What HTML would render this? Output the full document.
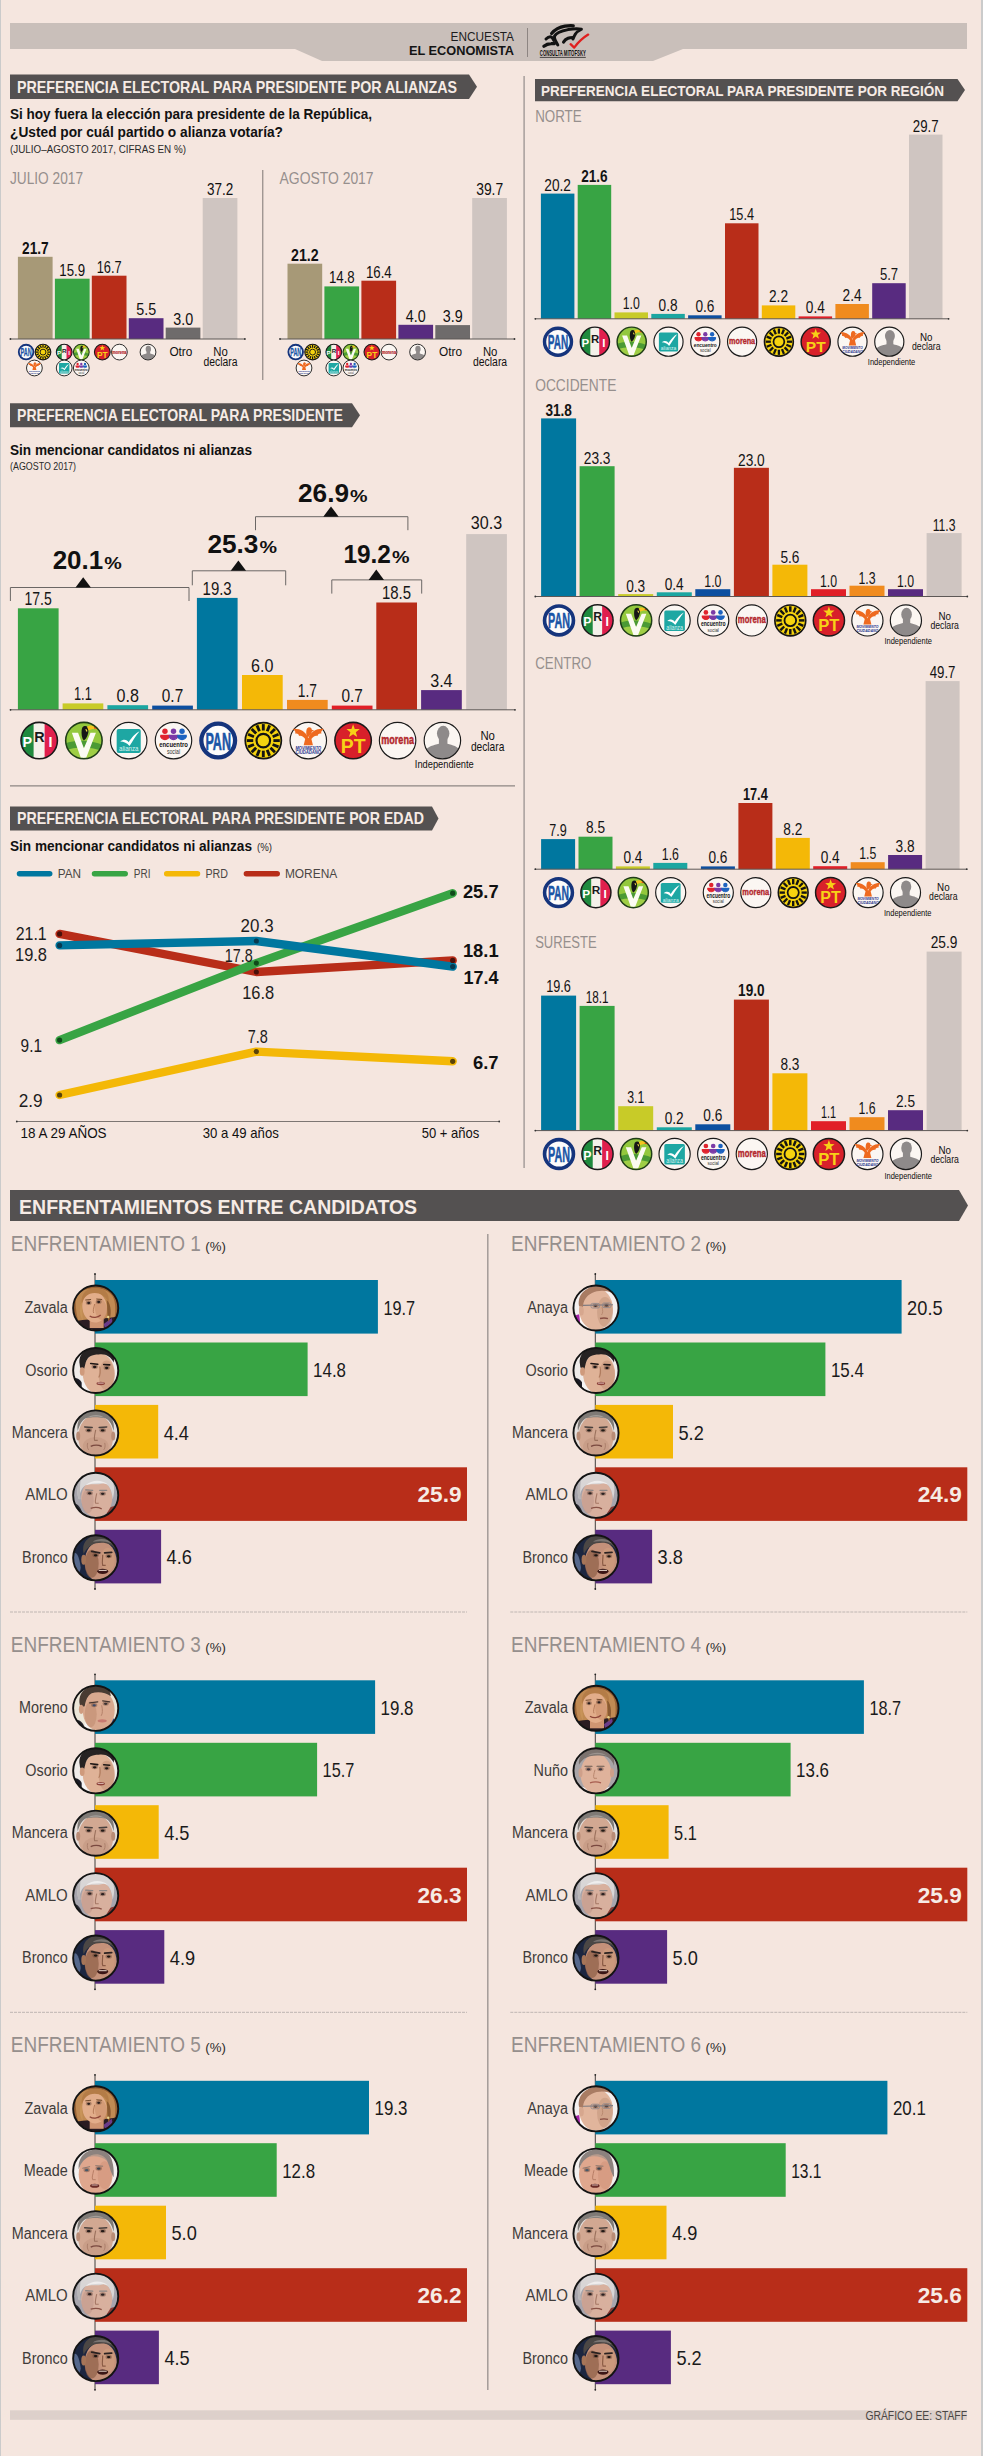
<!DOCTYPE html>
<html lang="es"><head><meta charset="utf-8"><title>Encuesta El Economista</title>
<style>
html,body{margin:0;padding:0;background:#f5e6df}
svg{display:block}
text{font-family:"Liberation Sans",Arial,sans-serif}
</style></head><body>
<svg width="983" height="2456" viewBox="0 0 983 2456">
<defs><filter id="bl" x="-10%" y="-10%" width="120%" height="120%"><feGaussianBlur stdDeviation="0.6"/></filter></defs>
<rect x="0.0" y="0.0" width="983.0" height="2456.0" fill="#f5e6df"/>
<rect x="0.0" y="0.0" width="1.0" height="2456.0" fill="#cbcbcb"/>
<rect x="981.0" y="0.0" width="2.0" height="2456.0" fill="#cbcbcb"/>
<path d="M10 23H967V49H683L653 61H322L295 49H10Z" fill="#c9bfba" stroke="none" stroke-width="1.00"/>
<text x="450.5" y="40.5" font-size="12.5" fill="#1c1c1c" textLength="63.5" lengthAdjust="spacingAndGlyphs">ENCUESTA</text>
<text x="409.0" y="54.5" font-size="12.5" font-weight="700" fill="#141414" textLength="105.0" lengthAdjust="spacingAndGlyphs">EL ECONOMISTA</text>
<line x1="527.5" y1="28.0" x2="527.5" y2="57.0" stroke="#8d8582" stroke-width="1.00"/>
<g fill="none" stroke="#121212" stroke-linecap="round" stroke-linejoin="round">
<path d="M551.6 33.6C555 29.5 560 27 565 26.2C568 25.7 571 25.5 573.3 25.8" stroke-width="3.2"/>
<path d="M557.8 45C555.5 41 553.8 38.5 554.6 36C556 33 561 31 568 29.6C573 28.8 578 28.6 581.4 29.2C578.5 30.6 576.6 32 575.4 34C574.2 36 573.6 37.5 573 39" stroke-width="3.0"/>
<path d="M563.6 42C564.5 40.4 566 39 568 38.3C569.6 37.8 571 37.6 572.6 37.5" stroke-width="3.2"/>
<path d="M543.9 46.3C546 44.6 548.5 43.7 551 43.6C552.3 43.5 553.4 43.5 554.4 43.6" stroke-width="3.3"/>
<path d="M546 39C547.6 37.4 549.2 36.7 550.5 36.8C552 37 553 38.6 553.8 40.4" stroke-width="3.0"/>
<path d="M570.6 44.2L574.2 47.6C578 42.5 583 37.8 588.2 34.6" stroke="#e0201f" stroke-width="2.3"/>
</g>
<text x="539.8" y="55.9" font-size="9.2" font-weight="700" fill="#111" textLength="46.0" lengthAdjust="spacingAndGlyphs">CONSULTA MITOFSKY</text>
<line x1="539.8" y1="57.4" x2="585.8" y2="57.4" stroke="#111" stroke-width="0.70"/>
<line x1="262.8" y1="170.0" x2="262.8" y2="380.0" stroke="#7d7673" stroke-width="1.00"/>
<line x1="524.1" y1="76.0" x2="524.1" y2="1168.0" stroke="#a09896" stroke-width="1.40"/>
<path d="M10.0 74.5H469.0L477.0 86.8L469.0 99.0H10.0Z" fill="#545151" stroke="none" stroke-width="1.00"/>
<text x="17.0" y="92.5" font-size="16.5" font-weight="700" fill="#f6ebe5" textLength="440.0" lengthAdjust="spacingAndGlyphs">PREFERENCIA ELECTORAL PARA PRESIDENTE POR ALIANZAS</text>
<text x="10.0" y="119.0" font-size="14.5" font-weight="700" fill="#111" textLength="362.0" lengthAdjust="spacingAndGlyphs">Si hoy fuera la elección para presidente de la República,</text>
<text x="10.0" y="136.5" font-size="14.5" font-weight="700" fill="#111" textLength="273.0" lengthAdjust="spacingAndGlyphs">¿Usted por cuál partido o alianza votaría?</text>
<text x="10.0" y="152.5" font-size="10.0" fill="#2a2a2a" textLength="176.0" lengthAdjust="spacingAndGlyphs">(JULIO–AGOSTO 2017, CIFRAS EN %)</text>
<text x="10.0" y="184.0" font-size="16.2" fill="#968f8d" textLength="73.0" lengthAdjust="spacingAndGlyphs">JULIO 2017</text>
<rect x="17.9" y="256.8" width="34.7" height="82.2" fill="#a79977"/>
<text x="22.0" y="253.8" font-size="16.5" font-weight="700" fill="#111" textLength="26.7" lengthAdjust="spacingAndGlyphs">21.7</text>
<rect x="54.9" y="278.7" width="34.7" height="60.3" fill="#38a444"/>
<text x="59.3" y="275.7" font-size="16.5" fill="#111" textLength="25.8" lengthAdjust="spacingAndGlyphs">15.9</text>
<rect x="91.8" y="275.7" width="34.7" height="63.3" fill="#b82d19"/>
<text x="96.7" y="272.7" font-size="16.5" fill="#111" textLength="24.9" lengthAdjust="spacingAndGlyphs">16.7</text>
<rect x="128.8" y="318.2" width="34.7" height="20.8" fill="#582b80"/>
<text x="136.2" y="315.2" font-size="16.5" fill="#111" textLength="19.9" lengthAdjust="spacingAndGlyphs">5.5</text>
<rect x="165.7" y="327.6" width="34.7" height="11.4" fill="#6e6b6b"/>
<text x="173.2" y="324.6" font-size="16.5" fill="#111" textLength="19.9" lengthAdjust="spacingAndGlyphs">3.0</text>
<rect x="202.7" y="198.0" width="34.7" height="141.0" fill="#cfc5c1"/>
<text x="206.9" y="195.0" font-size="16.5" fill="#111" textLength="26.3" lengthAdjust="spacingAndGlyphs">37.2</text>
<line x1="10.4" y1="339.0" x2="244.9" y2="339.0" stroke="#5d5856" stroke-width="1.00"/>
<circle cx="10.4" cy="339.0" r="0.9" fill="#333"/>
<circle cx="244.9" cy="339.0" r="0.9" fill="#333"/>
<g transform="translate(26.1 352.1) scale(0.168)">
<circle r="43.5" fill="#fdfcfb" stroke="#15347c" stroke-width="11"/>
<text x="-33" y="23" font-size="64" font-weight="700" fill="#1a55a6" stroke="#1a55a6" stroke-width="1.5" textLength="66" lengthAdjust="spacingAndGlyphs">PAN</text>
</g>
<g transform="translate(43.0 352.1) scale(0.168)">
<circle r="46.5" fill="#f5d30f" stroke="#141414" stroke-width="6.9"/>
<rect x="26" y="-3.7" width="16.5" height="7.4" fill="#141414" transform="rotate(0.0)"/>
<rect x="26" y="-3.7" width="16.5" height="7.4" fill="#141414" transform="rotate(22.5)"/>
<rect x="26" y="-3.7" width="16.5" height="7.4" fill="#141414" transform="rotate(45.0)"/>
<rect x="26" y="-3.7" width="16.5" height="7.4" fill="#141414" transform="rotate(67.5)"/>
<rect x="26" y="-3.7" width="16.5" height="7.4" fill="#141414" transform="rotate(90.0)"/>
<rect x="26" y="-3.7" width="16.5" height="7.4" fill="#141414" transform="rotate(112.5)"/>
<rect x="26" y="-3.7" width="16.5" height="7.4" fill="#141414" transform="rotate(135.0)"/>
<rect x="26" y="-3.7" width="16.5" height="7.4" fill="#141414" transform="rotate(157.5)"/>
<rect x="26" y="-3.7" width="16.5" height="7.4" fill="#141414" transform="rotate(180.0)"/>
<rect x="26" y="-3.7" width="16.5" height="7.4" fill="#141414" transform="rotate(202.5)"/>
<rect x="26" y="-3.7" width="16.5" height="7.4" fill="#141414" transform="rotate(225.0)"/>
<rect x="26" y="-3.7" width="16.5" height="7.4" fill="#141414" transform="rotate(247.5)"/>
<rect x="26" y="-3.7" width="16.5" height="7.4" fill="#141414" transform="rotate(270.0)"/>
<rect x="26" y="-3.7" width="16.5" height="7.4" fill="#141414" transform="rotate(292.5)"/>
<rect x="26" y="-3.7" width="16.5" height="7.4" fill="#141414" transform="rotate(315.0)"/>
<rect x="26" y="-3.7" width="16.5" height="7.4" fill="#141414" transform="rotate(337.5)"/>
<circle r="17.5" fill="#f5d30f" stroke="#141414" stroke-width="5.5"/>
</g>
<g transform="translate(34.4 368.0) scale(0.168)">
<circle r="47" fill="#fbf6f2" stroke="#1a1a1a" stroke-width="5.4"/>
<path d="M0-6C-6-24-24-32-40-30C-34-26-32-22-34-18C-28-20-24-16-24-12C-18-14-12-10-8-4L-12 12H12L8-4C12-10 18-14 24-12C24-16 28-20 34-18C32-22 34-26 40-30C24-32 6-24 0-6Z" fill="#ee6a20"/>
<path d="M-4-30C0-37 9-35 9-28L15-26L9-23C9-16 2-12-2-8C-6-14-6-24-4-30Z" fill="#ee6a20"/>
<text x="-33" y="23" font-size="12.5" font-weight="700" font-style="italic" fill="#26338c" textLength="66" lengthAdjust="spacingAndGlyphs">MOVIMIENTO</text>
<text x="-33" y="35.5" font-size="12.5" font-weight="700" font-style="italic" fill="#26338c" textLength="66" lengthAdjust="spacingAndGlyphs">CIUDADANO</text>
</g>
<g transform="translate(64.2 352.1) scale(0.168)">
<clipPath id="c1"><circle r="47"/></clipPath>
<g clip-path="url(#c1)"><rect x="-50" y="-50" width="36" height="100" fill="#1f8a3e"/><rect x="-14" y="-50" width="28" height="100" fill="#f4f1ea"/><rect x="14" y="-50" width="36" height="100" fill="#e01f4d"/></g>
<circle r="47" fill="none" stroke="#1a1a1a" stroke-width="6.4"/>
<text x="-43" y="17" font-size="37" font-weight="700" fill="#fff">P</text>
<text x="-13" y="3" font-size="37" font-weight="700" fill="#1a1a1a">R</text>
<text x="24" y="17" font-size="37" font-weight="700" fill="#fff">I</text>
</g>
<g transform="translate(81.3 352.1) scale(0.168)">
<clipPath id="c2"><circle r="47"/></clipPath>
<circle r="47" fill="#93c83d"/>
<g clip-path="url(#c2)"><path d="M-50 8C-22-4 22-2 50 12V50H-50Z" fill="#4b9a34"/><path d="M-50 26C-20 14 22 16 50 28V50H-50Z" fill="#9fce45"/></g>
<path d="M-31-20H-15L0 20L17-20H31L6 44H-8Z" fill="#fbfbf2"/>
<path d="M-4-34C2-41 12-38 12-28C12-18 8-6 0 0C-6-6-8-24-4-34Z" fill="#161616"/>
<path d="M8-36C18-42 32-38 38-28C28-32 18-30 12-26Z" fill="#f4c51f"/><path d="M26-35C32-34 36-31 38-28C33-30 29-31 26-31Z" fill="#d8381f"/>
<path d="M4-30C8-30 10-26 8-22C6-24 4-27 4-30Z" fill="#f4e04a"/>
<circle r="47" fill="none" stroke="#1f3d18" stroke-width="6.4"/>
</g>
<g transform="translate(64.2 368.0) scale(0.168)">
<circle r="47" fill="#fbf6f2" stroke="#1a1a1a" stroke-width="5.4"/>
<rect x="-31" y="-30" width="62" height="62" rx="5" fill="#1ea7a3"/>
<path d="M-22 2C-12-6-4-2 0 4C8-8 18-20 28-24C18-12 10 2 2 14C-4 6-12 2-22 2Z" fill="#fff"/>
<text x="-25" y="28" font-size="19" fill="#d9f3f1" textLength="50" lengthAdjust="spacingAndGlyphs">alianza</text>
</g>
<g transform="translate(81.3 368.0) scale(0.168)">
<circle r="47" fill="#fbf6f2" stroke="#1a1a1a" stroke-width="5.4"/>
<circle cx="-22" cy="-24" r="7" fill="#e0242e"/>
<path d="M-35 -14A13 13 0 0 0 -9 -14L-14 -12A8 8 0 0 1 -30 -12Z" fill="#e0242e"/>
<path d="M-34 -15A12 12 0 0 0 -10 -15Z" fill="#e0242e"/>
<circle cx="0" cy="-24" r="7" fill="#7b3aa6"/>
<path d="M-13 -14A13 13 0 0 0 13 -14L8 -12A8 8 0 0 1 -8 -12Z" fill="#7b3aa6"/>
<path d="M-12 -15A12 12 0 0 0 12 -15Z" fill="#7b3aa6"/>
<circle cx="22" cy="-24" r="7" fill="#1d63c0"/>
<path d="M9 -14A13 13 0 0 0 35 -14L30 -12A8 8 0 0 1 14 -12Z" fill="#1d63c0"/>
<path d="M10 -15A12 12 0 0 0 34 -15Z" fill="#1d63c0"/>
<text x="-37" y="17" font-size="20" font-weight="700" fill="#141414" textLength="74" lengthAdjust="spacingAndGlyphs">encuentro</text>
<text x="-17" y="34" font-size="17" fill="#333" textLength="34" lengthAdjust="spacingAndGlyphs">social</text>
</g>
<g transform="translate(102.3 352.1) scale(0.168)">
<circle r="47" fill="#d8202a" stroke="#1a1a1a" stroke-width="6.4"/>
<polygon points="0.0,-42.0 4.3,-30.0 17.1,-29.6 7.0,-21.7 10.6,-9.4 0.0,-16.6 -10.6,-9.4 -7.0,-21.7 -17.1,-29.6 -4.3,-30.0" fill="#f7d117"/>
<text x="-32" y="33" font-size="50" font-weight="700" fill="#f7d117" textLength="64" lengthAdjust="spacingAndGlyphs">PT</text>
</g>
<g transform="translate(119.4 352.1) scale(0.168)">
<circle r="47" fill="#fbf6f2" stroke="#1a1a1a" stroke-width="5.4"/>
<text x="-42" y="9" font-size="31" font-weight="700" fill="#b3282d" stroke="#b3282d" stroke-width="1.2" textLength="84" lengthAdjust="spacingAndGlyphs">morena</text>
</g>
<g transform="translate(148.0 352.1) scale(0.168)">
<clipPath id="c3"><circle r="46"/></clipPath>
<circle r="47" fill="#fbf6f2"/>
<g clip-path="url(#c3)" fill="#8e8a8a"><ellipse cx="2" cy="-18" rx="16" ry="20"/><path d="M-9-4H13V8C26 12 40 14 46 26V50H-44V26C-38 14-22 12-9 8Z"/></g>
<circle r="47" fill="none" stroke="#1a1a1a" stroke-width="5.4"/>
</g>
<text x="169.4" y="355.5" font-size="12.0" fill="#111" textLength="23.0" lengthAdjust="spacingAndGlyphs">Otro</text>
<text x="213.2" y="355.5" font-size="12.0" fill="#111" textLength="14.5" lengthAdjust="spacingAndGlyphs">No</text>
<text x="203.5" y="366.0" font-size="12.0" fill="#111" textLength="34.0" lengthAdjust="spacingAndGlyphs">declara</text>
<text x="279.6" y="184.0" font-size="16.2" fill="#968f8d" textLength="94.0" lengthAdjust="spacingAndGlyphs">AGOSTO 2017</text>
<rect x="287.5" y="263.7" width="34.7" height="75.3" fill="#a79977"/>
<text x="291.1" y="260.7" font-size="16.5" font-weight="700" fill="#111" textLength="27.6" lengthAdjust="spacingAndGlyphs">21.2</text>
<rect x="324.4" y="286.4" width="34.7" height="52.6" fill="#38a444"/>
<text x="328.9" y="283.4" font-size="16.5" fill="#111" textLength="25.8" lengthAdjust="spacingAndGlyphs">14.8</text>
<rect x="361.4" y="280.7" width="34.7" height="58.3" fill="#b82d19"/>
<text x="365.9" y="277.7" font-size="16.5" fill="#111" textLength="25.8" lengthAdjust="spacingAndGlyphs">16.4</text>
<rect x="398.4" y="324.8" width="34.7" height="14.2" fill="#582b80"/>
<text x="405.8" y="321.8" font-size="16.5" fill="#111" textLength="19.9" lengthAdjust="spacingAndGlyphs">4.0</text>
<rect x="435.3" y="325.1" width="34.7" height="13.9" fill="#6e6b6b"/>
<text x="442.8" y="322.1" font-size="16.5" fill="#111" textLength="19.9" lengthAdjust="spacingAndGlyphs">3.9</text>
<rect x="472.2" y="198.0" width="34.7" height="141.0" fill="#cfc5c1"/>
<text x="476.2" y="195.0" font-size="16.5" fill="#111" textLength="27.0" lengthAdjust="spacingAndGlyphs">39.7</text>
<line x1="280.0" y1="339.0" x2="514.5" y2="339.0" stroke="#5d5856" stroke-width="1.00"/>
<circle cx="280.0" cy="339.0" r="0.9" fill="#333"/>
<circle cx="514.5" cy="339.0" r="0.9" fill="#333"/>
<g transform="translate(295.7 352.1) scale(0.168)">
<circle r="43.5" fill="#fdfcfb" stroke="#15347c" stroke-width="11"/>
<text x="-33" y="23" font-size="64" font-weight="700" fill="#1a55a6" stroke="#1a55a6" stroke-width="1.5" textLength="66" lengthAdjust="spacingAndGlyphs">PAN</text>
</g>
<g transform="translate(312.6 352.1) scale(0.168)">
<circle r="46.5" fill="#f5d30f" stroke="#141414" stroke-width="6.9"/>
<rect x="26" y="-3.7" width="16.5" height="7.4" fill="#141414" transform="rotate(0.0)"/>
<rect x="26" y="-3.7" width="16.5" height="7.4" fill="#141414" transform="rotate(22.5)"/>
<rect x="26" y="-3.7" width="16.5" height="7.4" fill="#141414" transform="rotate(45.0)"/>
<rect x="26" y="-3.7" width="16.5" height="7.4" fill="#141414" transform="rotate(67.5)"/>
<rect x="26" y="-3.7" width="16.5" height="7.4" fill="#141414" transform="rotate(90.0)"/>
<rect x="26" y="-3.7" width="16.5" height="7.4" fill="#141414" transform="rotate(112.5)"/>
<rect x="26" y="-3.7" width="16.5" height="7.4" fill="#141414" transform="rotate(135.0)"/>
<rect x="26" y="-3.7" width="16.5" height="7.4" fill="#141414" transform="rotate(157.5)"/>
<rect x="26" y="-3.7" width="16.5" height="7.4" fill="#141414" transform="rotate(180.0)"/>
<rect x="26" y="-3.7" width="16.5" height="7.4" fill="#141414" transform="rotate(202.5)"/>
<rect x="26" y="-3.7" width="16.5" height="7.4" fill="#141414" transform="rotate(225.0)"/>
<rect x="26" y="-3.7" width="16.5" height="7.4" fill="#141414" transform="rotate(247.5)"/>
<rect x="26" y="-3.7" width="16.5" height="7.4" fill="#141414" transform="rotate(270.0)"/>
<rect x="26" y="-3.7" width="16.5" height="7.4" fill="#141414" transform="rotate(292.5)"/>
<rect x="26" y="-3.7" width="16.5" height="7.4" fill="#141414" transform="rotate(315.0)"/>
<rect x="26" y="-3.7" width="16.5" height="7.4" fill="#141414" transform="rotate(337.5)"/>
<circle r="17.5" fill="#f5d30f" stroke="#141414" stroke-width="5.5"/>
</g>
<g transform="translate(304.0 368.0) scale(0.168)">
<circle r="47" fill="#fbf6f2" stroke="#1a1a1a" stroke-width="5.4"/>
<path d="M0-6C-6-24-24-32-40-30C-34-26-32-22-34-18C-28-20-24-16-24-12C-18-14-12-10-8-4L-12 12H12L8-4C12-10 18-14 24-12C24-16 28-20 34-18C32-22 34-26 40-30C24-32 6-24 0-6Z" fill="#ee6a20"/>
<path d="M-4-30C0-37 9-35 9-28L15-26L9-23C9-16 2-12-2-8C-6-14-6-24-4-30Z" fill="#ee6a20"/>
<text x="-33" y="23" font-size="12.5" font-weight="700" font-style="italic" fill="#26338c" textLength="66" lengthAdjust="spacingAndGlyphs">MOVIMIENTO</text>
<text x="-33" y="35.5" font-size="12.5" font-weight="700" font-style="italic" fill="#26338c" textLength="66" lengthAdjust="spacingAndGlyphs">CIUDADANO</text>
</g>
<g transform="translate(333.8 352.1) scale(0.168)">
<clipPath id="c4"><circle r="47"/></clipPath>
<g clip-path="url(#c4)"><rect x="-50" y="-50" width="36" height="100" fill="#1f8a3e"/><rect x="-14" y="-50" width="28" height="100" fill="#f4f1ea"/><rect x="14" y="-50" width="36" height="100" fill="#e01f4d"/></g>
<circle r="47" fill="none" stroke="#1a1a1a" stroke-width="6.4"/>
<text x="-43" y="17" font-size="37" font-weight="700" fill="#fff">P</text>
<text x="-13" y="3" font-size="37" font-weight="700" fill="#1a1a1a">R</text>
<text x="24" y="17" font-size="37" font-weight="700" fill="#fff">I</text>
</g>
<g transform="translate(350.9 352.1) scale(0.168)">
<clipPath id="c5"><circle r="47"/></clipPath>
<circle r="47" fill="#93c83d"/>
<g clip-path="url(#c5)"><path d="M-50 8C-22-4 22-2 50 12V50H-50Z" fill="#4b9a34"/><path d="M-50 26C-20 14 22 16 50 28V50H-50Z" fill="#9fce45"/></g>
<path d="M-31-20H-15L0 20L17-20H31L6 44H-8Z" fill="#fbfbf2"/>
<path d="M-4-34C2-41 12-38 12-28C12-18 8-6 0 0C-6-6-8-24-4-34Z" fill="#161616"/>
<path d="M8-36C18-42 32-38 38-28C28-32 18-30 12-26Z" fill="#f4c51f"/><path d="M26-35C32-34 36-31 38-28C33-30 29-31 26-31Z" fill="#d8381f"/>
<path d="M4-30C8-30 10-26 8-22C6-24 4-27 4-30Z" fill="#f4e04a"/>
<circle r="47" fill="none" stroke="#1f3d18" stroke-width="6.4"/>
</g>
<g transform="translate(333.8 368.0) scale(0.168)">
<circle r="47" fill="#fbf6f2" stroke="#1a1a1a" stroke-width="5.4"/>
<rect x="-31" y="-30" width="62" height="62" rx="5" fill="#1ea7a3"/>
<path d="M-22 2C-12-6-4-2 0 4C8-8 18-20 28-24C18-12 10 2 2 14C-4 6-12 2-22 2Z" fill="#fff"/>
<text x="-25" y="28" font-size="19" fill="#d9f3f1" textLength="50" lengthAdjust="spacingAndGlyphs">alianza</text>
</g>
<g transform="translate(350.9 368.0) scale(0.168)">
<circle r="47" fill="#fbf6f2" stroke="#1a1a1a" stroke-width="5.4"/>
<circle cx="-22" cy="-24" r="7" fill="#e0242e"/>
<path d="M-35 -14A13 13 0 0 0 -9 -14L-14 -12A8 8 0 0 1 -30 -12Z" fill="#e0242e"/>
<path d="M-34 -15A12 12 0 0 0 -10 -15Z" fill="#e0242e"/>
<circle cx="0" cy="-24" r="7" fill="#7b3aa6"/>
<path d="M-13 -14A13 13 0 0 0 13 -14L8 -12A8 8 0 0 1 -8 -12Z" fill="#7b3aa6"/>
<path d="M-12 -15A12 12 0 0 0 12 -15Z" fill="#7b3aa6"/>
<circle cx="22" cy="-24" r="7" fill="#1d63c0"/>
<path d="M9 -14A13 13 0 0 0 35 -14L30 -12A8 8 0 0 1 14 -12Z" fill="#1d63c0"/>
<path d="M10 -15A12 12 0 0 0 34 -15Z" fill="#1d63c0"/>
<text x="-37" y="17" font-size="20" font-weight="700" fill="#141414" textLength="74" lengthAdjust="spacingAndGlyphs">encuentro</text>
<text x="-17" y="34" font-size="17" fill="#333" textLength="34" lengthAdjust="spacingAndGlyphs">social</text>
</g>
<g transform="translate(371.9 352.1) scale(0.168)">
<circle r="47" fill="#d8202a" stroke="#1a1a1a" stroke-width="6.4"/>
<polygon points="0.0,-42.0 4.3,-30.0 17.1,-29.6 7.0,-21.7 10.6,-9.4 0.0,-16.6 -10.6,-9.4 -7.0,-21.7 -17.1,-29.6 -4.3,-30.0" fill="#f7d117"/>
<text x="-32" y="33" font-size="50" font-weight="700" fill="#f7d117" textLength="64" lengthAdjust="spacingAndGlyphs">PT</text>
</g>
<g transform="translate(389.0 352.1) scale(0.168)">
<circle r="47" fill="#fbf6f2" stroke="#1a1a1a" stroke-width="5.4"/>
<text x="-42" y="9" font-size="31" font-weight="700" fill="#b3282d" stroke="#b3282d" stroke-width="1.2" textLength="84" lengthAdjust="spacingAndGlyphs">morena</text>
</g>
<g transform="translate(417.6 352.1) scale(0.168)">
<clipPath id="c6"><circle r="46"/></clipPath>
<circle r="47" fill="#fbf6f2"/>
<g clip-path="url(#c6)" fill="#8e8a8a"><ellipse cx="2" cy="-18" rx="16" ry="20"/><path d="M-9-4H13V8C26 12 40 14 46 26V50H-44V26C-38 14-22 12-9 8Z"/></g>
<circle r="47" fill="none" stroke="#1a1a1a" stroke-width="5.4"/>
</g>
<text x="439.0" y="355.5" font-size="12.0" fill="#111" textLength="23.0" lengthAdjust="spacingAndGlyphs">Otro</text>
<text x="482.9" y="355.5" font-size="12.0" fill="#111" textLength="14.5" lengthAdjust="spacingAndGlyphs">No</text>
<text x="473.1" y="366.0" font-size="12.0" fill="#111" textLength="34.0" lengthAdjust="spacingAndGlyphs">declara</text>
<path d="M10.0 403.2H352.0L360.0 415.2L352.0 427.2H10.0Z" fill="#545151" stroke="none" stroke-width="1.00"/>
<text x="17.0" y="421.0" font-size="16.5" font-weight="700" fill="#f6ebe5" textLength="326.0" lengthAdjust="spacingAndGlyphs">PREFERENCIA ELECTORAL PARA PRESIDENTE</text>
<text x="10.0" y="455.4" font-size="14.5" font-weight="700" fill="#111" textLength="242.0" lengthAdjust="spacingAndGlyphs">Sin mencionar candidatos ni alianzas</text>
<text x="10.0" y="470.0" font-size="10.5" fill="#2a2a2a" textLength="66.0" lengthAdjust="spacingAndGlyphs">(AGOSTO 2017)</text>
<rect x="17.9" y="608.3" width="40.7" height="101.5" fill="#38a444"/>
<text x="24.5" y="605.1" font-size="18.6" fill="#161616" textLength="27.3" lengthAdjust="spacingAndGlyphs">17.5</text>
<rect x="62.6" y="703.4" width="40.7" height="6.4" fill="#c8cb28"/>
<text x="74.0" y="700.2" font-size="18.6" fill="#161616" textLength="17.8" lengthAdjust="spacingAndGlyphs">1.1</text>
<rect x="107.4" y="705.2" width="40.7" height="4.6" fill="#1ba6a1"/>
<text x="116.5" y="702.0" font-size="18.6" fill="#161616" textLength="22.4" lengthAdjust="spacingAndGlyphs">0.8</text>
<rect x="152.2" y="705.6" width="40.7" height="4.2" fill="#0c4fa0"/>
<text x="161.8" y="702.4" font-size="18.6" fill="#161616" textLength="21.4" lengthAdjust="spacingAndGlyphs">0.7</text>
<rect x="196.9" y="597.9" width="40.7" height="111.9" fill="#00779f"/>
<text x="202.6" y="594.7" font-size="18.6" fill="#161616" textLength="29.1" lengthAdjust="spacingAndGlyphs">19.3</text>
<rect x="242.0" y="675.0" width="40.7" height="34.8" fill="#f4b807"/>
<text x="251.1" y="671.8" font-size="18.6" fill="#161616" textLength="22.4" lengthAdjust="spacingAndGlyphs">6.0</text>
<rect x="287.0" y="699.9" width="40.7" height="9.9" fill="#f08b1e"/>
<text x="297.8" y="696.7" font-size="18.6" fill="#161616" textLength="19.1" lengthAdjust="spacingAndGlyphs">1.7</text>
<rect x="331.8" y="705.6" width="40.7" height="4.2" fill="#e11f27"/>
<text x="341.4" y="702.4" font-size="18.6" fill="#161616" textLength="21.4" lengthAdjust="spacingAndGlyphs">0.7</text>
<rect x="376.3" y="602.5" width="40.7" height="107.3" fill="#b82d19"/>
<text x="382.0" y="599.3" font-size="18.6" fill="#161616" textLength="29.1" lengthAdjust="spacingAndGlyphs">18.5</text>
<rect x="421.1" y="690.1" width="40.7" height="19.7" fill="#582b80"/>
<text x="430.2" y="686.9" font-size="18.6" fill="#161616" textLength="22.4" lengthAdjust="spacingAndGlyphs">3.4</text>
<rect x="466.2" y="534.1" width="40.7" height="175.7" fill="#cfc5c1"/>
<text x="470.8" y="529.3" font-size="18.6" fill="#161616" textLength="31.4" lengthAdjust="spacingAndGlyphs">30.3</text>
<line x1="10.0" y1="709.8" x2="515.0" y2="709.8" stroke="#5d5856" stroke-width="1.00"/>
<circle cx="10.5" cy="709.8" r="0.9" fill="#333"/><circle cx="515" cy="709.8" r="0.9" fill="#333"/>
<g transform="translate(39.2 740.6) scale(0.388)">
<clipPath id="c7"><circle r="47"/></clipPath>
<g clip-path="url(#c7)"><rect x="-50" y="-50" width="36" height="100" fill="#1f8a3e"/><rect x="-14" y="-50" width="28" height="100" fill="#f4f1ea"/><rect x="14" y="-50" width="36" height="100" fill="#e01f4d"/></g>
<circle r="47" fill="none" stroke="#1a1a1a" stroke-width="4.0"/>
<text x="-43" y="17" font-size="37" font-weight="700" fill="#fff">P</text>
<text x="-13" y="3" font-size="37" font-weight="700" fill="#1a1a1a">R</text>
<text x="24" y="17" font-size="37" font-weight="700" fill="#fff">I</text>
</g>
<g transform="translate(83.9 740.6) scale(0.388)">
<clipPath id="c8"><circle r="47"/></clipPath>
<circle r="47" fill="#93c83d"/>
<g clip-path="url(#c8)"><path d="M-50 8C-22-4 22-2 50 12V50H-50Z" fill="#4b9a34"/><path d="M-50 26C-20 14 22 16 50 28V50H-50Z" fill="#9fce45"/></g>
<path d="M-31-20H-15L0 20L17-20H31L6 44H-8Z" fill="#fbfbf2"/>
<path d="M-4-34C2-41 12-38 12-28C12-18 8-6 0 0C-6-6-8-24-4-34Z" fill="#161616"/>
<path d="M8-36C18-42 32-38 38-28C28-32 18-30 12-26Z" fill="#f4c51f"/><path d="M26-35C32-34 36-31 38-28C33-30 29-31 26-31Z" fill="#d8381f"/>
<path d="M4-30C8-30 10-26 8-22C6-24 4-27 4-30Z" fill="#f4e04a"/>
<circle r="47" fill="none" stroke="#1f3d18" stroke-width="4.0"/>
</g>
<g transform="translate(128.7 740.6) scale(0.388)">
<circle r="47" fill="#fbf6f2" stroke="#1a1a1a" stroke-width="3.0"/>
<rect x="-31" y="-30" width="62" height="62" rx="5" fill="#1ea7a3"/>
<path d="M-22 2C-12-6-4-2 0 4C8-8 18-20 28-24C18-12 10 2 2 14C-4 6-12 2-22 2Z" fill="#fff"/>
<text x="-25" y="28" font-size="19" fill="#d9f3f1" textLength="50" lengthAdjust="spacingAndGlyphs">alianza</text>
</g>
<g transform="translate(173.5 740.6) scale(0.388)">
<circle r="47" fill="#fbf6f2" stroke="#1a1a1a" stroke-width="3.0"/>
<circle cx="-22" cy="-24" r="7" fill="#e0242e"/>
<path d="M-35 -14A13 13 0 0 0 -9 -14L-14 -12A8 8 0 0 1 -30 -12Z" fill="#e0242e"/>
<path d="M-34 -15A12 12 0 0 0 -10 -15Z" fill="#e0242e"/>
<circle cx="0" cy="-24" r="7" fill="#7b3aa6"/>
<path d="M-13 -14A13 13 0 0 0 13 -14L8 -12A8 8 0 0 1 -8 -12Z" fill="#7b3aa6"/>
<path d="M-12 -15A12 12 0 0 0 12 -15Z" fill="#7b3aa6"/>
<circle cx="22" cy="-24" r="7" fill="#1d63c0"/>
<path d="M9 -14A13 13 0 0 0 35 -14L30 -12A8 8 0 0 1 14 -12Z" fill="#1d63c0"/>
<path d="M10 -15A12 12 0 0 0 34 -15Z" fill="#1d63c0"/>
<text x="-37" y="17" font-size="20" font-weight="700" fill="#141414" textLength="74" lengthAdjust="spacingAndGlyphs">encuentro</text>
<text x="-17" y="34" font-size="17" fill="#333" textLength="34" lengthAdjust="spacingAndGlyphs">social</text>
</g>
<g transform="translate(218.2 740.6) scale(0.388)">
<circle r="43.5" fill="#fdfcfb" stroke="#15347c" stroke-width="11"/>
<text x="-33" y="23" font-size="64" font-weight="700" fill="#1a55a6" stroke="#1a55a6" stroke-width="1.5" textLength="66" lengthAdjust="spacingAndGlyphs">PAN</text>
</g>
<g transform="translate(263.3 740.6) scale(0.388)">
<circle r="46.5" fill="#f5d30f" stroke="#141414" stroke-width="4.5"/>
<rect x="26" y="-3.7" width="16.5" height="7.4" fill="#141414" transform="rotate(0.0)"/>
<rect x="26" y="-3.7" width="16.5" height="7.4" fill="#141414" transform="rotate(22.5)"/>
<rect x="26" y="-3.7" width="16.5" height="7.4" fill="#141414" transform="rotate(45.0)"/>
<rect x="26" y="-3.7" width="16.5" height="7.4" fill="#141414" transform="rotate(67.5)"/>
<rect x="26" y="-3.7" width="16.5" height="7.4" fill="#141414" transform="rotate(90.0)"/>
<rect x="26" y="-3.7" width="16.5" height="7.4" fill="#141414" transform="rotate(112.5)"/>
<rect x="26" y="-3.7" width="16.5" height="7.4" fill="#141414" transform="rotate(135.0)"/>
<rect x="26" y="-3.7" width="16.5" height="7.4" fill="#141414" transform="rotate(157.5)"/>
<rect x="26" y="-3.7" width="16.5" height="7.4" fill="#141414" transform="rotate(180.0)"/>
<rect x="26" y="-3.7" width="16.5" height="7.4" fill="#141414" transform="rotate(202.5)"/>
<rect x="26" y="-3.7" width="16.5" height="7.4" fill="#141414" transform="rotate(225.0)"/>
<rect x="26" y="-3.7" width="16.5" height="7.4" fill="#141414" transform="rotate(247.5)"/>
<rect x="26" y="-3.7" width="16.5" height="7.4" fill="#141414" transform="rotate(270.0)"/>
<rect x="26" y="-3.7" width="16.5" height="7.4" fill="#141414" transform="rotate(292.5)"/>
<rect x="26" y="-3.7" width="16.5" height="7.4" fill="#141414" transform="rotate(315.0)"/>
<rect x="26" y="-3.7" width="16.5" height="7.4" fill="#141414" transform="rotate(337.5)"/>
<circle r="17.5" fill="#f5d30f" stroke="#141414" stroke-width="5.5"/>
</g>
<g transform="translate(308.3 740.6) scale(0.388)">
<circle r="47" fill="#fbf6f2" stroke="#1a1a1a" stroke-width="3.0"/>
<path d="M0-6C-6-24-24-32-40-30C-34-26-32-22-34-18C-28-20-24-16-24-12C-18-14-12-10-8-4L-12 12H12L8-4C12-10 18-14 24-12C24-16 28-20 34-18C32-22 34-26 40-30C24-32 6-24 0-6Z" fill="#ee6a20"/>
<path d="M-4-30C0-37 9-35 9-28L15-26L9-23C9-16 2-12-2-8C-6-14-6-24-4-30Z" fill="#ee6a20"/>
<text x="-33" y="23" font-size="12.5" font-weight="700" font-style="italic" fill="#26338c" textLength="66" lengthAdjust="spacingAndGlyphs">MOVIMIENTO</text>
<text x="-33" y="35.5" font-size="12.5" font-weight="700" font-style="italic" fill="#26338c" textLength="66" lengthAdjust="spacingAndGlyphs">CIUDADANO</text>
</g>
<g transform="translate(353.1 740.6) scale(0.388)">
<circle r="47" fill="#d8202a" stroke="#1a1a1a" stroke-width="4.0"/>
<polygon points="0.0,-42.0 4.3,-30.0 17.1,-29.6 7.0,-21.7 10.6,-9.4 0.0,-16.6 -10.6,-9.4 -7.0,-21.7 -17.1,-29.6 -4.3,-30.0" fill="#f7d117"/>
<text x="-32" y="33" font-size="50" font-weight="700" fill="#f7d117" textLength="64" lengthAdjust="spacingAndGlyphs">PT</text>
</g>
<g transform="translate(397.6 740.6) scale(0.388)">
<circle r="47" fill="#fbf6f2" stroke="#1a1a1a" stroke-width="3.0"/>
<text x="-42" y="9" font-size="31" font-weight="700" fill="#b3282d" stroke="#b3282d" stroke-width="1.2" textLength="84" lengthAdjust="spacingAndGlyphs">morena</text>
</g>
<g transform="translate(442.4 740.6) scale(0.388)">
<clipPath id="c9"><circle r="46"/></clipPath>
<circle r="47" fill="#fbf6f2"/>
<g clip-path="url(#c9)" fill="#8e8a8a"><ellipse cx="2" cy="-18" rx="16" ry="20"/><path d="M-9-4H13V8C26 12 40 14 46 26V50H-44V26C-38 14-22 12-9 8Z"/></g>
<circle r="47" fill="none" stroke="#1a1a1a" stroke-width="3.0"/>
</g>
<text x="480.4" y="740.3" font-size="13.2" fill="#111" textLength="14.5" lengthAdjust="spacingAndGlyphs">No</text>
<text x="470.9" y="751.4" font-size="13.2" fill="#111" textLength="33.5" lengthAdjust="spacingAndGlyphs">declara</text>
<text x="414.8" y="768.0" font-size="10.5" fill="#111" textLength="59.0" lengthAdjust="spacingAndGlyphs">Independiente</text>
<path d="M10.4 601.0V587.5H189.0V601.0" fill="none" stroke="#6b6765" stroke-width="1.00"/>
<path d="M75.5 587.5L83.2 577.2L90.9 587.5Z" fill="#111" stroke="none" stroke-width="1.00"/>
<text x="52.7" y="569.4" font-size="25.5" font-weight="700" fill="#111" textLength="50.5" lengthAdjust="spacingAndGlyphs">20.1</text>
<text x="104.2" y="569.4" font-size="17.0" font-weight="700" fill="#111" textLength="17.5" lengthAdjust="spacingAndGlyphs">%</text>
<path d="M192.3 585.3V570.8H285.7V585.3" fill="none" stroke="#6b6765" stroke-width="1.00"/>
<path d="M230.7 570.8L238.4 560.5L246.1 570.8Z" fill="#111" stroke="none" stroke-width="1.00"/>
<text x="207.4" y="553.0" font-size="25.5" font-weight="700" fill="#111" textLength="51.0" lengthAdjust="spacingAndGlyphs">25.3</text>
<text x="259.4" y="553.0" font-size="17.0" font-weight="700" fill="#111" textLength="17.5" lengthAdjust="spacingAndGlyphs">%</text>
<path d="M255.5 530.2V516.7H407.9V530.2" fill="none" stroke="#6b6765" stroke-width="1.00"/>
<path d="M323.3 516.7L331.0 506.4L338.7 516.7Z" fill="#111" stroke="none" stroke-width="1.00"/>
<text x="298.0" y="502.4" font-size="25.5" font-weight="700" fill="#111" textLength="51.0" lengthAdjust="spacingAndGlyphs">26.9</text>
<text x="350.0" y="502.4" font-size="17.0" font-weight="700" fill="#111" textLength="17.5" lengthAdjust="spacingAndGlyphs">%</text>
<path d="M331.8 593.6V579.9H421.7V593.6" fill="none" stroke="#6b6765" stroke-width="1.00"/>
<path d="M368.6 579.9L376.3 569.6L384.0 579.9Z" fill="#111" stroke="none" stroke-width="1.00"/>
<text x="343.4" y="563.4" font-size="25.5" font-weight="700" fill="#111" textLength="47.5" lengthAdjust="spacingAndGlyphs">19.2</text>
<text x="391.9" y="563.4" font-size="17.0" font-weight="700" fill="#111" textLength="17.5" lengthAdjust="spacingAndGlyphs">%</text>
<line x1="10.0" y1="785.8" x2="515.0" y2="785.8" stroke="#8d8683" stroke-width="1.20"/>
<path d="M10.0 806.5H432.0L438.5 818.5L432.0 830.5H10.0Z" fill="#545151" stroke="none" stroke-width="1.00"/>
<text x="17.0" y="824.3" font-size="16.5" font-weight="700" fill="#f6ebe5" textLength="407.0" lengthAdjust="spacingAndGlyphs">PREFERENCIA ELECTORAL PARA PRESIDENTE POR EDAD</text>
<text x="10.0" y="851.0" font-size="14.5" font-weight="700" fill="#111" textLength="242.0" lengthAdjust="spacingAndGlyphs">Sin mencionar candidatos ni alianzas</text>
<text x="257.0" y="851.0" font-size="10.0" fill="#2a2a2a" textLength="15.0" lengthAdjust="spacingAndGlyphs">(%)</text>
<line x1="19.5" y1="873.8" x2="49.7" y2="873.8" stroke="#00779f" stroke-width="5.50" stroke-linecap="round"/>
<text x="57.7" y="878.2" font-size="12.5" fill="#4a4644" textLength="23.3" lengthAdjust="spacingAndGlyphs">PAN</text>
<line x1="94.5" y1="873.8" x2="125.2" y2="873.8" stroke="#38a444" stroke-width="5.50" stroke-linecap="round"/>
<text x="133.8" y="878.2" font-size="12.5" fill="#4a4644" textLength="16.7" lengthAdjust="spacingAndGlyphs">PRI</text>
<line x1="166.7" y1="873.8" x2="197.5" y2="873.8" stroke="#f4b807" stroke-width="5.50" stroke-linecap="round"/>
<text x="205.4" y="878.2" font-size="12.5" fill="#4a4644" textLength="22.6" lengthAdjust="spacingAndGlyphs">PRD</text>
<line x1="246.4" y1="873.8" x2="277.2" y2="873.8" stroke="#b82d19" stroke-width="5.50" stroke-linecap="round"/>
<text x="284.9" y="878.2" font-size="12.5" fill="#4a4644" textLength="52.4" lengthAdjust="spacingAndGlyphs">MORENA</text>
<polyline points="59.6,1095.0 256.3,1051.6 452.7,1061.3" fill="none" stroke="#f4b807" stroke-width="8.4" stroke-linecap="round" stroke-linejoin="round"/>
<polyline points="59.6,933.9 256.3,972.0 452.7,960.4" fill="none" stroke="#b82d19" stroke-width="8.4" stroke-linecap="round" stroke-linejoin="round"/>
<polyline points="59.6,1040.1 256.3,963.1 452.7,893.2" fill="none" stroke="#38a444" stroke-width="8.4" stroke-linecap="round" stroke-linejoin="round"/>
<polyline points="59.6,945.4 256.3,941.0 452.7,966.6" fill="none" stroke="#00779f" stroke-width="8.4" stroke-linecap="round" stroke-linejoin="round"/>
<circle cx="59.6" cy="1095.0" r="2.6" fill="#5a4308"/>
<circle cx="256.3" cy="1051.6" r="2.6" fill="#5a4308"/>
<circle cx="452.7" cy="1061.3" r="2.6" fill="#5a4308"/>
<circle cx="59.6" cy="933.9" r="2.6" fill="#4a1009"/>
<circle cx="256.3" cy="972.0" r="2.6" fill="#4a1009"/>
<circle cx="452.7" cy="960.4" r="2.6" fill="#4a1009"/>
<circle cx="59.6" cy="1040.1" r="2.6" fill="#0f4a1a"/>
<circle cx="256.3" cy="963.1" r="2.6" fill="#0f4a1a"/>
<circle cx="452.7" cy="893.2" r="2.6" fill="#0f4a1a"/>
<circle cx="59.6" cy="945.4" r="2.6" fill="#073a50"/>
<circle cx="256.3" cy="941.0" r="2.6" fill="#073a50"/>
<circle cx="452.7" cy="966.6" r="2.6" fill="#073a50"/>
<line x1="16.5" y1="1121.5" x2="499.4" y2="1121.5" stroke="#7d7673" stroke-width="1.00"/>
<circle cx="16.8" cy="1121.5" r="0.9" fill="#333"/><circle cx="499.2" cy="1121.5" r="0.9" fill="#333"/>
<text x="20.6" y="1138.3" font-size="14.5" fill="#111" textLength="86.0" lengthAdjust="spacingAndGlyphs">18 A 29 AÑOS</text>
<text x="202.7" y="1138.3" font-size="14.5" fill="#111" textLength="76.1" lengthAdjust="spacingAndGlyphs">30 a 49 años</text>
<text x="421.7" y="1138.3" font-size="14.5" fill="#111" textLength="57.6" lengthAdjust="spacingAndGlyphs">50 + años</text>
<text x="15.7" y="939.7" font-size="18.5" fill="#1c1c1c" textLength="31.0" lengthAdjust="spacingAndGlyphs">21.1</text>
<text x="15.0" y="960.8" font-size="18.5" fill="#1c1c1c" textLength="32.0" lengthAdjust="spacingAndGlyphs">19.8</text>
<text x="20.6" y="1052.3" font-size="18.5" fill="#1c1c1c" textLength="21.4" lengthAdjust="spacingAndGlyphs">9.1</text>
<text x="18.7" y="1107.2" font-size="18.5" fill="#1c1c1c" textLength="23.9" lengthAdjust="spacingAndGlyphs">2.9</text>
<text x="240.6" y="932.0" font-size="18.5" fill="#1c1c1c" textLength="33.0" lengthAdjust="spacingAndGlyphs">20.3</text>
<text x="224.7" y="961.7" font-size="18.5" fill="#1c1c1c" textLength="28.0" lengthAdjust="spacingAndGlyphs">17.8</text>
<text x="242.2" y="998.7" font-size="18.5" fill="#1c1c1c" textLength="32.0" lengthAdjust="spacingAndGlyphs">16.8</text>
<text x="247.7" y="1043.2" font-size="18.5" fill="#1c1c1c" textLength="20.1" lengthAdjust="spacingAndGlyphs">7.8</text>
<text x="462.9" y="897.7" font-size="18.5" font-weight="700" fill="#111" textLength="35.7" lengthAdjust="spacingAndGlyphs">25.7</text>
<text x="462.9" y="957.0" font-size="18.5" font-weight="700" fill="#111" textLength="35.7" lengthAdjust="spacingAndGlyphs">18.1</text>
<text x="463.5" y="983.6" font-size="18.5" font-weight="700" fill="#111" textLength="35.1" lengthAdjust="spacingAndGlyphs">17.4</text>
<text x="473.0" y="1068.8" font-size="18.5" font-weight="700" fill="#111" textLength="25.6" lengthAdjust="spacingAndGlyphs">6.7</text>
<path d="M535.0 79.0H957.5L965.0 90.1L957.5 101.2H535.0Z" fill="#545151" stroke="none" stroke-width="1.00"/>
<text x="541.0" y="95.5" font-size="15.5" font-weight="700" fill="#f6ebe5" textLength="403.0" lengthAdjust="spacingAndGlyphs">PREFERENCIA ELECTORAL PARA PRESIDENTE  POR REGIÓN</text>
<text x="535.2" y="122.2" font-size="15.6" fill="#968f8d" textLength="46.5" lengthAdjust="spacingAndGlyphs">NORTE</text>
<rect x="540.9" y="193.6" width="33.5" height="125.2" fill="#00779f"/>
<text x="544.3" y="190.6" font-size="15.8" fill="#141414" textLength="26.7" lengthAdjust="spacingAndGlyphs">20.2</text>
<rect x="577.7" y="184.9" width="33.5" height="133.9" fill="#38a444"/>
<text x="581.2" y="181.9" font-size="15.8" font-weight="700" fill="#141414" textLength="26.5" lengthAdjust="spacingAndGlyphs">21.6</text>
<rect x="614.5" y="312.4" width="33.5" height="6.4" fill="#c8cb28"/>
<text x="622.7" y="309.4" font-size="15.8" fill="#141414" textLength="17.1" lengthAdjust="spacingAndGlyphs">1.0</text>
<rect x="651.3" y="313.9" width="33.5" height="4.9" fill="#1ba6a1"/>
<text x="658.6" y="310.9" font-size="15.8" fill="#141414" textLength="19.0" lengthAdjust="spacingAndGlyphs">0.8</text>
<rect x="688.1" y="315.3" width="33.5" height="3.5" fill="#0c4fa0"/>
<text x="695.4" y="312.3" font-size="15.8" fill="#141414" textLength="19.0" lengthAdjust="spacingAndGlyphs">0.6</text>
<rect x="725.0" y="223.3" width="33.5" height="95.5" fill="#b82d19"/>
<text x="729.3" y="220.3" font-size="15.8" fill="#141414" textLength="24.7" lengthAdjust="spacingAndGlyphs">15.4</text>
<rect x="761.8" y="305.4" width="33.5" height="13.4" fill="#f4b807"/>
<text x="769.0" y="302.4" font-size="15.8" fill="#141414" textLength="19.0" lengthAdjust="spacingAndGlyphs">2.2</text>
<rect x="798.6" y="316.4" width="33.5" height="2.4" fill="#e11f27"/>
<text x="805.8" y="313.4" font-size="15.8" fill="#141414" textLength="19.0" lengthAdjust="spacingAndGlyphs">0.4</text>
<rect x="835.4" y="304.0" width="33.5" height="14.8" fill="#f08b1e"/>
<text x="842.6" y="301.0" font-size="15.8" fill="#141414" textLength="19.0" lengthAdjust="spacingAndGlyphs">2.4</text>
<rect x="872.2" y="283.2" width="33.5" height="35.6" fill="#582b80"/>
<text x="879.9" y="280.2" font-size="15.8" fill="#141414" textLength="18.2" lengthAdjust="spacingAndGlyphs">5.7</text>
<rect x="909.0" y="134.6" width="33.5" height="184.2" fill="#cfc5c1"/>
<text x="912.8" y="131.6" font-size="15.8" fill="#141414" textLength="25.8" lengthAdjust="spacingAndGlyphs">29.7</text>
<line x1="535.0" y1="318.8" x2="948.6" y2="318.8" stroke="#5d5856" stroke-width="1.00"/>
<circle cx="535.3" cy="318.8" r="0.9" fill="#333"/><circle cx="948.6" cy="318.8" r="0.9" fill="#333"/>
<g transform="translate(558.0 341.7) scale(0.310)">
<circle r="43.5" fill="#fdfcfb" stroke="#15347c" stroke-width="11"/>
<text x="-33" y="23" font-size="64" font-weight="700" fill="#1a55a6" stroke="#1a55a6" stroke-width="1.5" textLength="66" lengthAdjust="spacingAndGlyphs">PAN</text>
</g>
<g transform="translate(594.9 341.7) scale(0.310)">
<clipPath id="c10"><circle r="47"/></clipPath>
<g clip-path="url(#c10)"><rect x="-50" y="-50" width="36" height="100" fill="#1f8a3e"/><rect x="-14" y="-50" width="28" height="100" fill="#f4f1ea"/><rect x="14" y="-50" width="36" height="100" fill="#e01f4d"/></g>
<circle r="47" fill="none" stroke="#1a1a1a" stroke-width="4.7"/>
<text x="-43" y="17" font-size="37" font-weight="700" fill="#fff">P</text>
<text x="-13" y="3" font-size="37" font-weight="700" fill="#1a1a1a">R</text>
<text x="24" y="17" font-size="37" font-weight="700" fill="#fff">I</text>
</g>
<g transform="translate(631.7 341.7) scale(0.310)">
<clipPath id="c11"><circle r="47"/></clipPath>
<circle r="47" fill="#93c83d"/>
<g clip-path="url(#c11)"><path d="M-50 8C-22-4 22-2 50 12V50H-50Z" fill="#4b9a34"/><path d="M-50 26C-20 14 22 16 50 28V50H-50Z" fill="#9fce45"/></g>
<path d="M-31-20H-15L0 20L17-20H31L6 44H-8Z" fill="#fbfbf2"/>
<path d="M-4-34C2-41 12-38 12-28C12-18 8-6 0 0C-6-6-8-24-4-34Z" fill="#161616"/>
<path d="M8-36C18-42 32-38 38-28C28-32 18-30 12-26Z" fill="#f4c51f"/><path d="M26-35C32-34 36-31 38-28C33-30 29-31 26-31Z" fill="#d8381f"/>
<path d="M4-30C8-30 10-26 8-22C6-24 4-27 4-30Z" fill="#f4e04a"/>
<circle r="47" fill="none" stroke="#1f3d18" stroke-width="4.7"/>
</g>
<g transform="translate(668.5 341.7) scale(0.310)">
<circle r="47" fill="#fbf6f2" stroke="#1a1a1a" stroke-width="3.7"/>
<rect x="-31" y="-30" width="62" height="62" rx="5" fill="#1ea7a3"/>
<path d="M-22 2C-12-6-4-2 0 4C8-8 18-20 28-24C18-12 10 2 2 14C-4 6-12 2-22 2Z" fill="#fff"/>
<text x="-25" y="28" font-size="19" fill="#d9f3f1" textLength="50" lengthAdjust="spacingAndGlyphs">alianza</text>
</g>
<g transform="translate(705.3 341.7) scale(0.310)">
<circle r="47" fill="#fbf6f2" stroke="#1a1a1a" stroke-width="3.7"/>
<circle cx="-22" cy="-24" r="7" fill="#e0242e"/>
<path d="M-35 -14A13 13 0 0 0 -9 -14L-14 -12A8 8 0 0 1 -30 -12Z" fill="#e0242e"/>
<path d="M-34 -15A12 12 0 0 0 -10 -15Z" fill="#e0242e"/>
<circle cx="0" cy="-24" r="7" fill="#7b3aa6"/>
<path d="M-13 -14A13 13 0 0 0 13 -14L8 -12A8 8 0 0 1 -8 -12Z" fill="#7b3aa6"/>
<path d="M-12 -15A12 12 0 0 0 12 -15Z" fill="#7b3aa6"/>
<circle cx="22" cy="-24" r="7" fill="#1d63c0"/>
<path d="M9 -14A13 13 0 0 0 35 -14L30 -12A8 8 0 0 1 14 -12Z" fill="#1d63c0"/>
<path d="M10 -15A12 12 0 0 0 34 -15Z" fill="#1d63c0"/>
<text x="-37" y="17" font-size="20" font-weight="700" fill="#141414" textLength="74" lengthAdjust="spacingAndGlyphs">encuentro</text>
<text x="-17" y="34" font-size="17" fill="#333" textLength="34" lengthAdjust="spacingAndGlyphs">social</text>
</g>
<g transform="translate(742.1 341.7) scale(0.310)">
<circle r="47" fill="#fbf6f2" stroke="#1a1a1a" stroke-width="3.7"/>
<text x="-42" y="9" font-size="31" font-weight="700" fill="#b3282d" stroke="#b3282d" stroke-width="1.2" textLength="84" lengthAdjust="spacingAndGlyphs">morena</text>
</g>
<g transform="translate(778.9 341.7) scale(0.310)">
<circle r="46.5" fill="#f5d30f" stroke="#141414" stroke-width="5.2"/>
<rect x="26" y="-3.7" width="16.5" height="7.4" fill="#141414" transform="rotate(0.0)"/>
<rect x="26" y="-3.7" width="16.5" height="7.4" fill="#141414" transform="rotate(22.5)"/>
<rect x="26" y="-3.7" width="16.5" height="7.4" fill="#141414" transform="rotate(45.0)"/>
<rect x="26" y="-3.7" width="16.5" height="7.4" fill="#141414" transform="rotate(67.5)"/>
<rect x="26" y="-3.7" width="16.5" height="7.4" fill="#141414" transform="rotate(90.0)"/>
<rect x="26" y="-3.7" width="16.5" height="7.4" fill="#141414" transform="rotate(112.5)"/>
<rect x="26" y="-3.7" width="16.5" height="7.4" fill="#141414" transform="rotate(135.0)"/>
<rect x="26" y="-3.7" width="16.5" height="7.4" fill="#141414" transform="rotate(157.5)"/>
<rect x="26" y="-3.7" width="16.5" height="7.4" fill="#141414" transform="rotate(180.0)"/>
<rect x="26" y="-3.7" width="16.5" height="7.4" fill="#141414" transform="rotate(202.5)"/>
<rect x="26" y="-3.7" width="16.5" height="7.4" fill="#141414" transform="rotate(225.0)"/>
<rect x="26" y="-3.7" width="16.5" height="7.4" fill="#141414" transform="rotate(247.5)"/>
<rect x="26" y="-3.7" width="16.5" height="7.4" fill="#141414" transform="rotate(270.0)"/>
<rect x="26" y="-3.7" width="16.5" height="7.4" fill="#141414" transform="rotate(292.5)"/>
<rect x="26" y="-3.7" width="16.5" height="7.4" fill="#141414" transform="rotate(315.0)"/>
<rect x="26" y="-3.7" width="16.5" height="7.4" fill="#141414" transform="rotate(337.5)"/>
<circle r="17.5" fill="#f5d30f" stroke="#141414" stroke-width="5.5"/>
</g>
<g transform="translate(815.7 341.7) scale(0.310)">
<circle r="47" fill="#d8202a" stroke="#1a1a1a" stroke-width="4.7"/>
<polygon points="0.0,-42.0 4.3,-30.0 17.1,-29.6 7.0,-21.7 10.6,-9.4 0.0,-16.6 -10.6,-9.4 -7.0,-21.7 -17.1,-29.6 -4.3,-30.0" fill="#f7d117"/>
<text x="-32" y="33" font-size="50" font-weight="700" fill="#f7d117" textLength="64" lengthAdjust="spacingAndGlyphs">PT</text>
</g>
<g transform="translate(852.5 341.7) scale(0.310)">
<circle r="47" fill="#fbf6f2" stroke="#1a1a1a" stroke-width="3.7"/>
<path d="M0-6C-6-24-24-32-40-30C-34-26-32-22-34-18C-28-20-24-16-24-12C-18-14-12-10-8-4L-12 12H12L8-4C12-10 18-14 24-12C24-16 28-20 34-18C32-22 34-26 40-30C24-32 6-24 0-6Z" fill="#ee6a20"/>
<path d="M-4-30C0-37 9-35 9-28L15-26L9-23C9-16 2-12-2-8C-6-14-6-24-4-30Z" fill="#ee6a20"/>
<text x="-33" y="23" font-size="12.5" font-weight="700" font-style="italic" fill="#26338c" textLength="66" lengthAdjust="spacingAndGlyphs">MOVIMIENTO</text>
<text x="-33" y="35.5" font-size="12.5" font-weight="700" font-style="italic" fill="#26338c" textLength="66" lengthAdjust="spacingAndGlyphs">CIUDADANO</text>
</g>
<g transform="translate(889.3 341.7) scale(0.310)">
<clipPath id="c12"><circle r="46"/></clipPath>
<circle r="47" fill="#fbf6f2"/>
<g clip-path="url(#c12)" fill="#8e8a8a"><ellipse cx="2" cy="-18" rx="16" ry="20"/><path d="M-9-4H13V8C26 12 40 14 46 26V50H-44V26C-38 14-22 12-9 8Z"/></g>
<circle r="47" fill="none" stroke="#1a1a1a" stroke-width="3.7"/>
</g>
<text x="920.0" y="340.5" font-size="10.5" fill="#111" textLength="12.5" lengthAdjust="spacingAndGlyphs">No</text>
<text x="912.0" y="349.8" font-size="10.5" fill="#111" textLength="28.5" lengthAdjust="spacingAndGlyphs">declara</text>
<text x="867.8" y="365.2" font-size="8.8" fill="#0c0c0c" textLength="47.5" lengthAdjust="spacingAndGlyphs">Independiente</text>
<text x="535.2" y="391.0" font-size="15.6" fill="#968f8d" textLength="81.2" lengthAdjust="spacingAndGlyphs">OCCIDENTE</text>
<rect x="541.1" y="418.4" width="35.0" height="178.1" fill="#00779f"/>
<text x="545.4" y="416.4" font-size="15.8" font-weight="700" fill="#141414" textLength="26.5" lengthAdjust="spacingAndGlyphs">31.8</text>
<rect x="579.6" y="466.2" width="35.0" height="130.3" fill="#38a444"/>
<text x="583.8" y="464.2" font-size="15.8" fill="#141414" textLength="26.7" lengthAdjust="spacingAndGlyphs">23.3</text>
<rect x="618.2" y="594.1" width="35.0" height="2.4" fill="#c8cb28"/>
<text x="626.2" y="592.1" font-size="15.8" fill="#141414" textLength="19.0" lengthAdjust="spacingAndGlyphs">0.3</text>
<rect x="656.8" y="592.3" width="35.0" height="4.2" fill="#1ba6a1"/>
<text x="664.7" y="590.3" font-size="15.8" fill="#141414" textLength="19.0" lengthAdjust="spacingAndGlyphs">0.4</text>
<rect x="695.3" y="589.2" width="35.0" height="7.3" fill="#0c4fa0"/>
<text x="704.3" y="587.2" font-size="15.8" fill="#141414" textLength="17.1" lengthAdjust="spacingAndGlyphs">1.0</text>
<rect x="733.9" y="467.8" width="35.0" height="128.7" fill="#b82d19"/>
<text x="738.0" y="465.8" font-size="15.8" fill="#141414" textLength="26.7" lengthAdjust="spacingAndGlyphs">23.0</text>
<rect x="772.4" y="564.7" width="35.0" height="31.8" fill="#f4b807"/>
<text x="780.4" y="562.7" font-size="15.8" fill="#141414" textLength="19.0" lengthAdjust="spacingAndGlyphs">5.6</text>
<rect x="811.0" y="589.2" width="35.0" height="7.3" fill="#e11f27"/>
<text x="819.9" y="587.2" font-size="15.8" fill="#141414" textLength="17.1" lengthAdjust="spacingAndGlyphs">1.0</text>
<rect x="849.5" y="585.7" width="35.0" height="10.8" fill="#f08b1e"/>
<text x="858.5" y="583.7" font-size="15.8" fill="#141414" textLength="17.1" lengthAdjust="spacingAndGlyphs">1.3</text>
<rect x="888.0" y="589.2" width="35.0" height="7.3" fill="#582b80"/>
<text x="897.0" y="587.2" font-size="15.8" fill="#141414" textLength="17.1" lengthAdjust="spacingAndGlyphs">1.0</text>
<rect x="926.6" y="533.1" width="35.0" height="63.4" fill="#cfc5c1"/>
<text x="932.7" y="531.1" font-size="15.8" fill="#141414" textLength="22.8" lengthAdjust="spacingAndGlyphs">11.3</text>
<line x1="535.0" y1="596.5" x2="967.3" y2="596.5" stroke="#5d5856" stroke-width="1.00"/>
<circle cx="535.3" cy="596.5" r="0.9" fill="#333"/><circle cx="967.3" cy="596.5" r="0.9" fill="#333"/>
<g transform="translate(559.0 620.4) scale(0.332)">
<circle r="43.5" fill="#fdfcfb" stroke="#15347c" stroke-width="11"/>
<text x="-33" y="23" font-size="64" font-weight="700" fill="#1a55a6" stroke="#1a55a6" stroke-width="1.5" textLength="66" lengthAdjust="spacingAndGlyphs">PAN</text>
</g>
<g transform="translate(597.5 620.4) scale(0.332)">
<clipPath id="c13"><circle r="47"/></clipPath>
<g clip-path="url(#c13)"><rect x="-50" y="-50" width="36" height="100" fill="#1f8a3e"/><rect x="-14" y="-50" width="28" height="100" fill="#f4f1ea"/><rect x="14" y="-50" width="36" height="100" fill="#e01f4d"/></g>
<circle r="47" fill="none" stroke="#1a1a1a" stroke-width="4.5"/>
<text x="-43" y="17" font-size="37" font-weight="700" fill="#fff">P</text>
<text x="-13" y="3" font-size="37" font-weight="700" fill="#1a1a1a">R</text>
<text x="24" y="17" font-size="37" font-weight="700" fill="#fff">I</text>
</g>
<g transform="translate(636.1 620.4) scale(0.332)">
<clipPath id="c14"><circle r="47"/></clipPath>
<circle r="47" fill="#93c83d"/>
<g clip-path="url(#c14)"><path d="M-50 8C-22-4 22-2 50 12V50H-50Z" fill="#4b9a34"/><path d="M-50 26C-20 14 22 16 50 28V50H-50Z" fill="#9fce45"/></g>
<path d="M-31-20H-15L0 20L17-20H31L6 44H-8Z" fill="#fbfbf2"/>
<path d="M-4-34C2-41 12-38 12-28C12-18 8-6 0 0C-6-6-8-24-4-34Z" fill="#161616"/>
<path d="M8-36C18-42 32-38 38-28C28-32 18-30 12-26Z" fill="#f4c51f"/><path d="M26-35C32-34 36-31 38-28C33-30 29-31 26-31Z" fill="#d8381f"/>
<path d="M4-30C8-30 10-26 8-22C6-24 4-27 4-30Z" fill="#f4e04a"/>
<circle r="47" fill="none" stroke="#1f3d18" stroke-width="4.5"/>
</g>
<g transform="translate(674.6 620.4) scale(0.332)">
<circle r="47" fill="#fbf6f2" stroke="#1a1a1a" stroke-width="3.5"/>
<rect x="-31" y="-30" width="62" height="62" rx="5" fill="#1ea7a3"/>
<path d="M-22 2C-12-6-4-2 0 4C8-8 18-20 28-24C18-12 10 2 2 14C-4 6-12 2-22 2Z" fill="#fff"/>
<text x="-25" y="28" font-size="19" fill="#d9f3f1" textLength="50" lengthAdjust="spacingAndGlyphs">alianza</text>
</g>
<g transform="translate(713.2 620.4) scale(0.332)">
<circle r="47" fill="#fbf6f2" stroke="#1a1a1a" stroke-width="3.5"/>
<circle cx="-22" cy="-24" r="7" fill="#e0242e"/>
<path d="M-35 -14A13 13 0 0 0 -9 -14L-14 -12A8 8 0 0 1 -30 -12Z" fill="#e0242e"/>
<path d="M-34 -15A12 12 0 0 0 -10 -15Z" fill="#e0242e"/>
<circle cx="0" cy="-24" r="7" fill="#7b3aa6"/>
<path d="M-13 -14A13 13 0 0 0 13 -14L8 -12A8 8 0 0 1 -8 -12Z" fill="#7b3aa6"/>
<path d="M-12 -15A12 12 0 0 0 12 -15Z" fill="#7b3aa6"/>
<circle cx="22" cy="-24" r="7" fill="#1d63c0"/>
<path d="M9 -14A13 13 0 0 0 35 -14L30 -12A8 8 0 0 1 14 -12Z" fill="#1d63c0"/>
<path d="M10 -15A12 12 0 0 0 34 -15Z" fill="#1d63c0"/>
<text x="-37" y="17" font-size="20" font-weight="700" fill="#141414" textLength="74" lengthAdjust="spacingAndGlyphs">encuentro</text>
<text x="-17" y="34" font-size="17" fill="#333" textLength="34" lengthAdjust="spacingAndGlyphs">social</text>
</g>
<g transform="translate(751.8 620.4) scale(0.332)">
<circle r="47" fill="#fbf6f2" stroke="#1a1a1a" stroke-width="3.5"/>
<text x="-42" y="9" font-size="31" font-weight="700" fill="#b3282d" stroke="#b3282d" stroke-width="1.2" textLength="84" lengthAdjust="spacingAndGlyphs">morena</text>
</g>
<g transform="translate(790.3 620.4) scale(0.332)">
<circle r="46.5" fill="#f5d30f" stroke="#141414" stroke-width="5.0"/>
<rect x="26" y="-3.7" width="16.5" height="7.4" fill="#141414" transform="rotate(0.0)"/>
<rect x="26" y="-3.7" width="16.5" height="7.4" fill="#141414" transform="rotate(22.5)"/>
<rect x="26" y="-3.7" width="16.5" height="7.4" fill="#141414" transform="rotate(45.0)"/>
<rect x="26" y="-3.7" width="16.5" height="7.4" fill="#141414" transform="rotate(67.5)"/>
<rect x="26" y="-3.7" width="16.5" height="7.4" fill="#141414" transform="rotate(90.0)"/>
<rect x="26" y="-3.7" width="16.5" height="7.4" fill="#141414" transform="rotate(112.5)"/>
<rect x="26" y="-3.7" width="16.5" height="7.4" fill="#141414" transform="rotate(135.0)"/>
<rect x="26" y="-3.7" width="16.5" height="7.4" fill="#141414" transform="rotate(157.5)"/>
<rect x="26" y="-3.7" width="16.5" height="7.4" fill="#141414" transform="rotate(180.0)"/>
<rect x="26" y="-3.7" width="16.5" height="7.4" fill="#141414" transform="rotate(202.5)"/>
<rect x="26" y="-3.7" width="16.5" height="7.4" fill="#141414" transform="rotate(225.0)"/>
<rect x="26" y="-3.7" width="16.5" height="7.4" fill="#141414" transform="rotate(247.5)"/>
<rect x="26" y="-3.7" width="16.5" height="7.4" fill="#141414" transform="rotate(270.0)"/>
<rect x="26" y="-3.7" width="16.5" height="7.4" fill="#141414" transform="rotate(292.5)"/>
<rect x="26" y="-3.7" width="16.5" height="7.4" fill="#141414" transform="rotate(315.0)"/>
<rect x="26" y="-3.7" width="16.5" height="7.4" fill="#141414" transform="rotate(337.5)"/>
<circle r="17.5" fill="#f5d30f" stroke="#141414" stroke-width="5.5"/>
</g>
<g transform="translate(828.9 620.4) scale(0.332)">
<circle r="47" fill="#d8202a" stroke="#1a1a1a" stroke-width="4.5"/>
<polygon points="0.0,-42.0 4.3,-30.0 17.1,-29.6 7.0,-21.7 10.6,-9.4 0.0,-16.6 -10.6,-9.4 -7.0,-21.7 -17.1,-29.6 -4.3,-30.0" fill="#f7d117"/>
<text x="-32" y="33" font-size="50" font-weight="700" fill="#f7d117" textLength="64" lengthAdjust="spacingAndGlyphs">PT</text>
</g>
<g transform="translate(867.4 620.4) scale(0.332)">
<circle r="47" fill="#fbf6f2" stroke="#1a1a1a" stroke-width="3.5"/>
<path d="M0-6C-6-24-24-32-40-30C-34-26-32-22-34-18C-28-20-24-16-24-12C-18-14-12-10-8-4L-12 12H12L8-4C12-10 18-14 24-12C24-16 28-20 34-18C32-22 34-26 40-30C24-32 6-24 0-6Z" fill="#ee6a20"/>
<path d="M-4-30C0-37 9-35 9-28L15-26L9-23C9-16 2-12-2-8C-6-14-6-24-4-30Z" fill="#ee6a20"/>
<text x="-33" y="23" font-size="12.5" font-weight="700" font-style="italic" fill="#26338c" textLength="66" lengthAdjust="spacingAndGlyphs">MOVIMIENTO</text>
<text x="-33" y="35.5" font-size="12.5" font-weight="700" font-style="italic" fill="#26338c" textLength="66" lengthAdjust="spacingAndGlyphs">CIUDADANO</text>
</g>
<g transform="translate(905.9 620.4) scale(0.332)">
<clipPath id="c15"><circle r="46"/></clipPath>
<circle r="47" fill="#fbf6f2"/>
<g clip-path="url(#c15)" fill="#8e8a8a"><ellipse cx="2" cy="-18" rx="16" ry="20"/><path d="M-9-4H13V8C26 12 40 14 46 26V50H-44V26C-38 14-22 12-9 8Z"/></g>
<circle r="47" fill="none" stroke="#1a1a1a" stroke-width="3.5"/>
</g>
<text x="938.4" y="619.5" font-size="10.5" fill="#111" textLength="12.5" lengthAdjust="spacingAndGlyphs">No</text>
<text x="930.4" y="629.0" font-size="10.5" fill="#111" textLength="28.5" lengthAdjust="spacingAndGlyphs">declara</text>
<text x="884.4" y="644.2" font-size="8.8" fill="#0c0c0c" textLength="47.5" lengthAdjust="spacingAndGlyphs">Independiente</text>
<text x="535.2" y="669.4" font-size="15.6" fill="#968f8d" textLength="56.2" lengthAdjust="spacingAndGlyphs">CENTRO</text>
<rect x="541.1" y="839.1" width="34.0" height="30.1" fill="#00779f"/>
<text x="549.3" y="835.8" font-size="15.8" fill="#141414" textLength="17.5" lengthAdjust="spacingAndGlyphs">7.9</text>
<rect x="578.5" y="836.7" width="34.0" height="32.5" fill="#38a444"/>
<text x="586.0" y="833.4" font-size="15.8" fill="#141414" textLength="19.0" lengthAdjust="spacingAndGlyphs">8.5</text>
<rect x="615.9" y="866.4" width="34.0" height="2.8" fill="#c8cb28"/>
<text x="623.4" y="863.1" font-size="15.8" fill="#141414" textLength="19.0" lengthAdjust="spacingAndGlyphs">0.4</text>
<rect x="653.3" y="862.9" width="34.0" height="6.3" fill="#1ba6a1"/>
<text x="661.8" y="859.6" font-size="15.8" fill="#141414" textLength="17.1" lengthAdjust="spacingAndGlyphs">1.6</text>
<rect x="700.9" y="866.4" width="34.0" height="2.8" fill="#0c4fa0"/>
<text x="708.4" y="863.1" font-size="15.8" fill="#141414" textLength="19.0" lengthAdjust="spacingAndGlyphs">0.6</text>
<rect x="738.4" y="803.0" width="34.0" height="66.2" fill="#b82d19"/>
<text x="742.9" y="799.7" font-size="15.8" font-weight="700" fill="#141414" textLength="24.9" lengthAdjust="spacingAndGlyphs">17.4</text>
<rect x="775.8" y="837.9" width="34.0" height="31.3" fill="#f4b807"/>
<text x="783.3" y="834.6" font-size="15.8" fill="#141414" textLength="19.0" lengthAdjust="spacingAndGlyphs">8.2</text>
<rect x="813.2" y="866.2" width="34.0" height="3.0" fill="#e11f27"/>
<text x="820.7" y="862.9" font-size="15.8" fill="#141414" textLength="19.0" lengthAdjust="spacingAndGlyphs">0.4</text>
<rect x="850.7" y="862.2" width="34.0" height="7.0" fill="#f08b1e"/>
<text x="859.2" y="858.9" font-size="15.8" fill="#141414" textLength="17.1" lengthAdjust="spacingAndGlyphs">1.5</text>
<rect x="888.1" y="855.0" width="34.0" height="14.2" fill="#582b80"/>
<text x="895.6" y="851.7" font-size="15.8" fill="#141414" textLength="19.0" lengthAdjust="spacingAndGlyphs">3.8</text>
<rect x="925.6" y="681.1" width="34.0" height="188.1" fill="#cfc5c1"/>
<text x="929.7" y="677.8" font-size="15.8" fill="#141414" textLength="25.8" lengthAdjust="spacingAndGlyphs">49.7</text>
<line x1="535.0" y1="869.2" x2="966.8" y2="869.2" stroke="#5d5856" stroke-width="1.00"/>
<circle cx="535.3" cy="869.2" r="0.9" fill="#333"/><circle cx="966.8" cy="869.2" r="0.9" fill="#333"/>
<g transform="translate(558.5 892.6) scale(0.320)">
<circle r="43.5" fill="#fdfcfb" stroke="#15347c" stroke-width="11"/>
<text x="-33" y="23" font-size="64" font-weight="700" fill="#1a55a6" stroke="#1a55a6" stroke-width="1.5" textLength="66" lengthAdjust="spacingAndGlyphs">PAN</text>
</g>
<g transform="translate(595.9 892.6) scale(0.320)">
<clipPath id="c16"><circle r="47"/></clipPath>
<g clip-path="url(#c16)"><rect x="-50" y="-50" width="36" height="100" fill="#1f8a3e"/><rect x="-14" y="-50" width="28" height="100" fill="#f4f1ea"/><rect x="14" y="-50" width="36" height="100" fill="#e01f4d"/></g>
<circle r="47" fill="none" stroke="#1a1a1a" stroke-width="4.6"/>
<text x="-43" y="17" font-size="37" font-weight="700" fill="#fff">P</text>
<text x="-13" y="3" font-size="37" font-weight="700" fill="#1a1a1a">R</text>
<text x="24" y="17" font-size="37" font-weight="700" fill="#fff">I</text>
</g>
<g transform="translate(633.3 892.6) scale(0.320)">
<clipPath id="c17"><circle r="47"/></clipPath>
<circle r="47" fill="#93c83d"/>
<g clip-path="url(#c17)"><path d="M-50 8C-22-4 22-2 50 12V50H-50Z" fill="#4b9a34"/><path d="M-50 26C-20 14 22 16 50 28V50H-50Z" fill="#9fce45"/></g>
<path d="M-31-20H-15L0 20L17-20H31L6 44H-8Z" fill="#fbfbf2"/>
<path d="M-4-34C2-41 12-38 12-28C12-18 8-6 0 0C-6-6-8-24-4-34Z" fill="#161616"/>
<path d="M8-36C18-42 32-38 38-28C28-32 18-30 12-26Z" fill="#f4c51f"/><path d="M26-35C32-34 36-31 38-28C33-30 29-31 26-31Z" fill="#d8381f"/>
<path d="M4-30C8-30 10-26 8-22C6-24 4-27 4-30Z" fill="#f4e04a"/>
<circle r="47" fill="none" stroke="#1f3d18" stroke-width="4.6"/>
</g>
<g transform="translate(670.7 892.6) scale(0.320)">
<circle r="47" fill="#fbf6f2" stroke="#1a1a1a" stroke-width="3.6"/>
<rect x="-31" y="-30" width="62" height="62" rx="5" fill="#1ea7a3"/>
<path d="M-22 2C-12-6-4-2 0 4C8-8 18-20 28-24C18-12 10 2 2 14C-4 6-12 2-22 2Z" fill="#fff"/>
<text x="-25" y="28" font-size="19" fill="#d9f3f1" textLength="50" lengthAdjust="spacingAndGlyphs">alianza</text>
</g>
<g transform="translate(718.3 892.6) scale(0.320)">
<circle r="47" fill="#fbf6f2" stroke="#1a1a1a" stroke-width="3.6"/>
<circle cx="-22" cy="-24" r="7" fill="#e0242e"/>
<path d="M-35 -14A13 13 0 0 0 -9 -14L-14 -12A8 8 0 0 1 -30 -12Z" fill="#e0242e"/>
<path d="M-34 -15A12 12 0 0 0 -10 -15Z" fill="#e0242e"/>
<circle cx="0" cy="-24" r="7" fill="#7b3aa6"/>
<path d="M-13 -14A13 13 0 0 0 13 -14L8 -12A8 8 0 0 1 -8 -12Z" fill="#7b3aa6"/>
<path d="M-12 -15A12 12 0 0 0 12 -15Z" fill="#7b3aa6"/>
<circle cx="22" cy="-24" r="7" fill="#1d63c0"/>
<path d="M9 -14A13 13 0 0 0 35 -14L30 -12A8 8 0 0 1 14 -12Z" fill="#1d63c0"/>
<path d="M10 -15A12 12 0 0 0 34 -15Z" fill="#1d63c0"/>
<text x="-37" y="17" font-size="20" font-weight="700" fill="#141414" textLength="74" lengthAdjust="spacingAndGlyphs">encuentro</text>
<text x="-17" y="34" font-size="17" fill="#333" textLength="34" lengthAdjust="spacingAndGlyphs">social</text>
</g>
<g transform="translate(755.8 892.6) scale(0.320)">
<circle r="47" fill="#fbf6f2" stroke="#1a1a1a" stroke-width="3.6"/>
<text x="-42" y="9" font-size="31" font-weight="700" fill="#b3282d" stroke="#b3282d" stroke-width="1.2" textLength="84" lengthAdjust="spacingAndGlyphs">morena</text>
</g>
<g transform="translate(793.2 892.6) scale(0.320)">
<circle r="46.5" fill="#f5d30f" stroke="#141414" stroke-width="5.1"/>
<rect x="26" y="-3.7" width="16.5" height="7.4" fill="#141414" transform="rotate(0.0)"/>
<rect x="26" y="-3.7" width="16.5" height="7.4" fill="#141414" transform="rotate(22.5)"/>
<rect x="26" y="-3.7" width="16.5" height="7.4" fill="#141414" transform="rotate(45.0)"/>
<rect x="26" y="-3.7" width="16.5" height="7.4" fill="#141414" transform="rotate(67.5)"/>
<rect x="26" y="-3.7" width="16.5" height="7.4" fill="#141414" transform="rotate(90.0)"/>
<rect x="26" y="-3.7" width="16.5" height="7.4" fill="#141414" transform="rotate(112.5)"/>
<rect x="26" y="-3.7" width="16.5" height="7.4" fill="#141414" transform="rotate(135.0)"/>
<rect x="26" y="-3.7" width="16.5" height="7.4" fill="#141414" transform="rotate(157.5)"/>
<rect x="26" y="-3.7" width="16.5" height="7.4" fill="#141414" transform="rotate(180.0)"/>
<rect x="26" y="-3.7" width="16.5" height="7.4" fill="#141414" transform="rotate(202.5)"/>
<rect x="26" y="-3.7" width="16.5" height="7.4" fill="#141414" transform="rotate(225.0)"/>
<rect x="26" y="-3.7" width="16.5" height="7.4" fill="#141414" transform="rotate(247.5)"/>
<rect x="26" y="-3.7" width="16.5" height="7.4" fill="#141414" transform="rotate(270.0)"/>
<rect x="26" y="-3.7" width="16.5" height="7.4" fill="#141414" transform="rotate(292.5)"/>
<rect x="26" y="-3.7" width="16.5" height="7.4" fill="#141414" transform="rotate(315.0)"/>
<rect x="26" y="-3.7" width="16.5" height="7.4" fill="#141414" transform="rotate(337.5)"/>
<circle r="17.5" fill="#f5d30f" stroke="#141414" stroke-width="5.5"/>
</g>
<g transform="translate(830.6 892.6) scale(0.320)">
<circle r="47" fill="#d8202a" stroke="#1a1a1a" stroke-width="4.6"/>
<polygon points="0.0,-42.0 4.3,-30.0 17.1,-29.6 7.0,-21.7 10.6,-9.4 0.0,-16.6 -10.6,-9.4 -7.0,-21.7 -17.1,-29.6 -4.3,-30.0" fill="#f7d117"/>
<text x="-32" y="33" font-size="50" font-weight="700" fill="#f7d117" textLength="64" lengthAdjust="spacingAndGlyphs">PT</text>
</g>
<g transform="translate(868.1 892.6) scale(0.320)">
<circle r="47" fill="#fbf6f2" stroke="#1a1a1a" stroke-width="3.6"/>
<path d="M0-6C-6-24-24-32-40-30C-34-26-32-22-34-18C-28-20-24-16-24-12C-18-14-12-10-8-4L-12 12H12L8-4C12-10 18-14 24-12C24-16 28-20 34-18C32-22 34-26 40-30C24-32 6-24 0-6Z" fill="#ee6a20"/>
<path d="M-4-30C0-37 9-35 9-28L15-26L9-23C9-16 2-12-2-8C-6-14-6-24-4-30Z" fill="#ee6a20"/>
<text x="-33" y="23" font-size="12.5" font-weight="700" font-style="italic" fill="#26338c" textLength="66" lengthAdjust="spacingAndGlyphs">MOVIMIENTO</text>
<text x="-33" y="35.5" font-size="12.5" font-weight="700" font-style="italic" fill="#26338c" textLength="66" lengthAdjust="spacingAndGlyphs">CIUDADANO</text>
</g>
<g transform="translate(905.5 892.6) scale(0.320)">
<clipPath id="c18"><circle r="46"/></clipPath>
<circle r="47" fill="#fbf6f2"/>
<g clip-path="url(#c18)" fill="#8e8a8a"><ellipse cx="2" cy="-18" rx="16" ry="20"/><path d="M-9-4H13V8C26 12 40 14 46 26V50H-44V26C-38 14-22 12-9 8Z"/></g>
<circle r="47" fill="none" stroke="#1a1a1a" stroke-width="3.6"/>
</g>
<text x="937.1" y="890.8" font-size="10.5" fill="#111" textLength="12.5" lengthAdjust="spacingAndGlyphs">No</text>
<text x="929.1" y="900.2" font-size="10.5" fill="#111" textLength="28.5" lengthAdjust="spacingAndGlyphs">declara</text>
<text x="884.0" y="915.6" font-size="8.8" fill="#0c0c0c" textLength="47.5" lengthAdjust="spacingAndGlyphs">Independiente</text>
<text x="535.2" y="947.6" font-size="15.6" fill="#968f8d" textLength="61.5" lengthAdjust="spacingAndGlyphs">SURESTE</text>
<rect x="541.1" y="995.6" width="35.0" height="135.0" fill="#00779f"/>
<text x="546.2" y="992.3" font-size="15.8" fill="#141414" textLength="24.7" lengthAdjust="spacingAndGlyphs">19.6</text>
<rect x="579.6" y="1005.9" width="35.0" height="124.7" fill="#38a444"/>
<text x="585.8" y="1002.6" font-size="15.8" fill="#141414" textLength="22.8" lengthAdjust="spacingAndGlyphs">18.1</text>
<rect x="618.2" y="1106.2" width="35.0" height="24.4" fill="#c8cb28"/>
<text x="627.2" y="1102.9" font-size="15.8" fill="#141414" textLength="17.1" lengthAdjust="spacingAndGlyphs">3.1</text>
<rect x="656.8" y="1127.3" width="35.0" height="3.3" fill="#1ba6a1"/>
<text x="664.7" y="1124.0" font-size="15.8" fill="#141414" textLength="19.0" lengthAdjust="spacingAndGlyphs">0.2</text>
<rect x="695.3" y="1124.3" width="35.0" height="6.3" fill="#0c4fa0"/>
<text x="703.3" y="1121.0" font-size="15.8" fill="#141414" textLength="19.0" lengthAdjust="spacingAndGlyphs">0.6</text>
<rect x="733.9" y="999.6" width="35.0" height="131.0" fill="#b82d19"/>
<text x="738.1" y="996.3" font-size="15.8" font-weight="700" fill="#141414" textLength="26.5" lengthAdjust="spacingAndGlyphs">19.0</text>
<rect x="772.4" y="1073.3" width="35.0" height="57.3" fill="#f4b807"/>
<text x="780.4" y="1070.0" font-size="15.8" fill="#141414" textLength="19.0" lengthAdjust="spacingAndGlyphs">8.3</text>
<rect x="811.0" y="1121.2" width="35.0" height="9.4" fill="#e11f27"/>
<text x="820.9" y="1117.9" font-size="15.8" fill="#141414" textLength="15.1" lengthAdjust="spacingAndGlyphs">1.1</text>
<rect x="849.5" y="1117.2" width="35.0" height="13.4" fill="#f08b1e"/>
<text x="858.5" y="1113.9" font-size="15.8" fill="#141414" textLength="17.1" lengthAdjust="spacingAndGlyphs">1.6</text>
<rect x="888.0" y="1110.2" width="35.0" height="20.4" fill="#582b80"/>
<text x="896.0" y="1106.9" font-size="15.8" fill="#141414" textLength="19.0" lengthAdjust="spacingAndGlyphs">2.5</text>
<rect x="926.6" y="951.6" width="35.0" height="179.0" fill="#cfc5c1"/>
<text x="930.7" y="948.3" font-size="15.8" fill="#141414" textLength="26.7" lengthAdjust="spacingAndGlyphs">25.9</text>
<line x1="535.0" y1="1130.6" x2="967.3" y2="1130.6" stroke="#5d5856" stroke-width="1.00"/>
<circle cx="535.3" cy="1130.6" r="0.9" fill="#333"/><circle cx="967.3" cy="1130.6" r="0.9" fill="#333"/>
<g transform="translate(559.0 1154.0) scale(0.332)">
<circle r="43.5" fill="#fdfcfb" stroke="#15347c" stroke-width="11"/>
<text x="-33" y="23" font-size="64" font-weight="700" fill="#1a55a6" stroke="#1a55a6" stroke-width="1.5" textLength="66" lengthAdjust="spacingAndGlyphs">PAN</text>
</g>
<g transform="translate(597.5 1154.0) scale(0.332)">
<clipPath id="c19"><circle r="47"/></clipPath>
<g clip-path="url(#c19)"><rect x="-50" y="-50" width="36" height="100" fill="#1f8a3e"/><rect x="-14" y="-50" width="28" height="100" fill="#f4f1ea"/><rect x="14" y="-50" width="36" height="100" fill="#e01f4d"/></g>
<circle r="47" fill="none" stroke="#1a1a1a" stroke-width="4.5"/>
<text x="-43" y="17" font-size="37" font-weight="700" fill="#fff">P</text>
<text x="-13" y="3" font-size="37" font-weight="700" fill="#1a1a1a">R</text>
<text x="24" y="17" font-size="37" font-weight="700" fill="#fff">I</text>
</g>
<g transform="translate(636.1 1154.0) scale(0.332)">
<clipPath id="c20"><circle r="47"/></clipPath>
<circle r="47" fill="#93c83d"/>
<g clip-path="url(#c20)"><path d="M-50 8C-22-4 22-2 50 12V50H-50Z" fill="#4b9a34"/><path d="M-50 26C-20 14 22 16 50 28V50H-50Z" fill="#9fce45"/></g>
<path d="M-31-20H-15L0 20L17-20H31L6 44H-8Z" fill="#fbfbf2"/>
<path d="M-4-34C2-41 12-38 12-28C12-18 8-6 0 0C-6-6-8-24-4-34Z" fill="#161616"/>
<path d="M8-36C18-42 32-38 38-28C28-32 18-30 12-26Z" fill="#f4c51f"/><path d="M26-35C32-34 36-31 38-28C33-30 29-31 26-31Z" fill="#d8381f"/>
<path d="M4-30C8-30 10-26 8-22C6-24 4-27 4-30Z" fill="#f4e04a"/>
<circle r="47" fill="none" stroke="#1f3d18" stroke-width="4.5"/>
</g>
<g transform="translate(674.6 1154.0) scale(0.332)">
<circle r="47" fill="#fbf6f2" stroke="#1a1a1a" stroke-width="3.5"/>
<rect x="-31" y="-30" width="62" height="62" rx="5" fill="#1ea7a3"/>
<path d="M-22 2C-12-6-4-2 0 4C8-8 18-20 28-24C18-12 10 2 2 14C-4 6-12 2-22 2Z" fill="#fff"/>
<text x="-25" y="28" font-size="19" fill="#d9f3f1" textLength="50" lengthAdjust="spacingAndGlyphs">alianza</text>
</g>
<g transform="translate(713.2 1154.0) scale(0.332)">
<circle r="47" fill="#fbf6f2" stroke="#1a1a1a" stroke-width="3.5"/>
<circle cx="-22" cy="-24" r="7" fill="#e0242e"/>
<path d="M-35 -14A13 13 0 0 0 -9 -14L-14 -12A8 8 0 0 1 -30 -12Z" fill="#e0242e"/>
<path d="M-34 -15A12 12 0 0 0 -10 -15Z" fill="#e0242e"/>
<circle cx="0" cy="-24" r="7" fill="#7b3aa6"/>
<path d="M-13 -14A13 13 0 0 0 13 -14L8 -12A8 8 0 0 1 -8 -12Z" fill="#7b3aa6"/>
<path d="M-12 -15A12 12 0 0 0 12 -15Z" fill="#7b3aa6"/>
<circle cx="22" cy="-24" r="7" fill="#1d63c0"/>
<path d="M9 -14A13 13 0 0 0 35 -14L30 -12A8 8 0 0 1 14 -12Z" fill="#1d63c0"/>
<path d="M10 -15A12 12 0 0 0 34 -15Z" fill="#1d63c0"/>
<text x="-37" y="17" font-size="20" font-weight="700" fill="#141414" textLength="74" lengthAdjust="spacingAndGlyphs">encuentro</text>
<text x="-17" y="34" font-size="17" fill="#333" textLength="34" lengthAdjust="spacingAndGlyphs">social</text>
</g>
<g transform="translate(751.8 1154.0) scale(0.332)">
<circle r="47" fill="#fbf6f2" stroke="#1a1a1a" stroke-width="3.5"/>
<text x="-42" y="9" font-size="31" font-weight="700" fill="#b3282d" stroke="#b3282d" stroke-width="1.2" textLength="84" lengthAdjust="spacingAndGlyphs">morena</text>
</g>
<g transform="translate(790.3 1154.0) scale(0.332)">
<circle r="46.5" fill="#f5d30f" stroke="#141414" stroke-width="5.0"/>
<rect x="26" y="-3.7" width="16.5" height="7.4" fill="#141414" transform="rotate(0.0)"/>
<rect x="26" y="-3.7" width="16.5" height="7.4" fill="#141414" transform="rotate(22.5)"/>
<rect x="26" y="-3.7" width="16.5" height="7.4" fill="#141414" transform="rotate(45.0)"/>
<rect x="26" y="-3.7" width="16.5" height="7.4" fill="#141414" transform="rotate(67.5)"/>
<rect x="26" y="-3.7" width="16.5" height="7.4" fill="#141414" transform="rotate(90.0)"/>
<rect x="26" y="-3.7" width="16.5" height="7.4" fill="#141414" transform="rotate(112.5)"/>
<rect x="26" y="-3.7" width="16.5" height="7.4" fill="#141414" transform="rotate(135.0)"/>
<rect x="26" y="-3.7" width="16.5" height="7.4" fill="#141414" transform="rotate(157.5)"/>
<rect x="26" y="-3.7" width="16.5" height="7.4" fill="#141414" transform="rotate(180.0)"/>
<rect x="26" y="-3.7" width="16.5" height="7.4" fill="#141414" transform="rotate(202.5)"/>
<rect x="26" y="-3.7" width="16.5" height="7.4" fill="#141414" transform="rotate(225.0)"/>
<rect x="26" y="-3.7" width="16.5" height="7.4" fill="#141414" transform="rotate(247.5)"/>
<rect x="26" y="-3.7" width="16.5" height="7.4" fill="#141414" transform="rotate(270.0)"/>
<rect x="26" y="-3.7" width="16.5" height="7.4" fill="#141414" transform="rotate(292.5)"/>
<rect x="26" y="-3.7" width="16.5" height="7.4" fill="#141414" transform="rotate(315.0)"/>
<rect x="26" y="-3.7" width="16.5" height="7.4" fill="#141414" transform="rotate(337.5)"/>
<circle r="17.5" fill="#f5d30f" stroke="#141414" stroke-width="5.5"/>
</g>
<g transform="translate(828.9 1154.0) scale(0.332)">
<circle r="47" fill="#d8202a" stroke="#1a1a1a" stroke-width="4.5"/>
<polygon points="0.0,-42.0 4.3,-30.0 17.1,-29.6 7.0,-21.7 10.6,-9.4 0.0,-16.6 -10.6,-9.4 -7.0,-21.7 -17.1,-29.6 -4.3,-30.0" fill="#f7d117"/>
<text x="-32" y="33" font-size="50" font-weight="700" fill="#f7d117" textLength="64" lengthAdjust="spacingAndGlyphs">PT</text>
</g>
<g transform="translate(867.4 1154.0) scale(0.332)">
<circle r="47" fill="#fbf6f2" stroke="#1a1a1a" stroke-width="3.5"/>
<path d="M0-6C-6-24-24-32-40-30C-34-26-32-22-34-18C-28-20-24-16-24-12C-18-14-12-10-8-4L-12 12H12L8-4C12-10 18-14 24-12C24-16 28-20 34-18C32-22 34-26 40-30C24-32 6-24 0-6Z" fill="#ee6a20"/>
<path d="M-4-30C0-37 9-35 9-28L15-26L9-23C9-16 2-12-2-8C-6-14-6-24-4-30Z" fill="#ee6a20"/>
<text x="-33" y="23" font-size="12.5" font-weight="700" font-style="italic" fill="#26338c" textLength="66" lengthAdjust="spacingAndGlyphs">MOVIMIENTO</text>
<text x="-33" y="35.5" font-size="12.5" font-weight="700" font-style="italic" fill="#26338c" textLength="66" lengthAdjust="spacingAndGlyphs">CIUDADANO</text>
</g>
<g transform="translate(905.9 1154.0) scale(0.332)">
<clipPath id="c21"><circle r="46"/></clipPath>
<circle r="47" fill="#fbf6f2"/>
<g clip-path="url(#c21)" fill="#8e8a8a"><ellipse cx="2" cy="-18" rx="16" ry="20"/><path d="M-9-4H13V8C26 12 40 14 46 26V50H-44V26C-38 14-22 12-9 8Z"/></g>
<circle r="47" fill="none" stroke="#1a1a1a" stroke-width="3.5"/>
</g>
<text x="938.4" y="1153.5" font-size="10.5" fill="#111" textLength="12.5" lengthAdjust="spacingAndGlyphs">No</text>
<text x="930.4" y="1162.7" font-size="10.5" fill="#111" textLength="28.5" lengthAdjust="spacingAndGlyphs">declara</text>
<text x="884.4" y="1178.5" font-size="8.8" fill="#0c0c0c" textLength="47.5" lengthAdjust="spacingAndGlyphs">Independiente</text>
<path d="M10 1190H959L968 1205.5L959 1221H10Z" fill="#545151" stroke="none" stroke-width="1.00"/>
<text x="19.1" y="1213.6" font-size="21.0" font-weight="700" fill="#f6ebe5" textLength="398.0" lengthAdjust="spacingAndGlyphs">ENFRENTAMIENTOS ENTRE CANDIDATOS</text>
<line x1="487.8" y1="1234.0" x2="487.8" y2="2390.0" stroke="#a39b98" stroke-width="1.50"/>
<text x="10.8" y="1251.2" font-size="22.0" fill="#968f8d" textLength="190.0" lengthAdjust="spacingAndGlyphs">ENFRENTAMIENTO 1</text>
<text x="205.3" y="1251.2" font-size="12.5" fill="#2a2a2a" textLength="20.5" lengthAdjust="spacingAndGlyphs">(%)</text>
<line x1="95.0" y1="1274.0" x2="95.0" y2="1589.0" stroke="#2e2a29" stroke-width="0.90"/>
<circle cx="95.0" cy="1274.0" r="0.9" fill="#222"/><circle cx="95.0" cy="1589.0" r="0.9" fill="#222"/>
<rect x="95.0" y="1280.0" width="282.9" height="53.6" fill="#00779f"/>
<text x="383.4" y="1314.6" font-size="21.0" fill="#1a1a1a" textLength="31.7" lengthAdjust="spacingAndGlyphs">19.7</text>
<g transform="translate(95.7 1308.0)">
<clipPath id="c22"><circle r="22.3"/></clipPath>
<g clip-path="url(#c22)"><g filter="url(#bl)">
<rect x="-23" y="-23" width="46" height="46" fill="#a9713f"/><path d="M-23-23H23V23H-23Z" fill="#9a6436"/><path d="M-20-8C-20-22 16-26 19-6C21 6 18 16 14 20L-14 20C-19 12-20 2-20-8Z" fill="#c08a52"/><path d="M-23 14C-12 10 10 12 23 8V23H-23Z" fill="#2a1d24"/><path d="M8 16L16 10L18 20L10 23Z" fill="#6a3a8a"/><path d="M-6 10H8V20H-6Z" fill="#cf9572"/><ellipse cx="-1" cy="-1" rx="12.2" ry="15.5" fill="#e2ad8a" transform="rotate(-8)"/><ellipse cx="5" cy="2" rx="6" ry="11" fill="#c98c68" opacity=".55" transform="rotate(-8)"/><path d="M-14-4C-15-16-8-20 0-20C9-20 14-15 13-5C10-12 5-15-1-15C-8-15-12-11-14-4Z" fill="#b47c46"/><path d="M11-8C16-4 16 8 13 14C11 8 12 0 11-8Z" fill="#8a5a30"/><path d="M-14-6C-17 0-16 8-13 12C-13 6-14 0-14-6Z" fill="#c89458"/><ellipse cx="-7.0" cy="-5.2" rx="2.9" ry="2.2" fill="#55382c" opacity=".38"/><ellipse cx="-7.0" cy="-5.0" rx="1.5" ry="1.15" fill="#2a1e1a"/><ellipse cx="3.0" cy="-6.2" rx="2.9" ry="2.2" fill="#55382c" opacity=".38"/><ellipse cx="3.0" cy="-6.0" rx="1.5" ry="1.15" fill="#2a1e1a"/><path d="M-10.0 -8.0L-5.0 -8.5" stroke="#6a4426" stroke-width="0.9" stroke-linecap="round"/><path d="M1.0 -9.0L6.0 -8.5" stroke="#6a4426" stroke-width="0.9" stroke-linecap="round"/><path d="M-1-4C-2 0-3 3-2 5" stroke="#b57a58" stroke-width="1" fill="none"/><path d="M-6 8C-3 10 2 10 5 7" stroke="#8e4638" stroke-width="1.3" fill="none"/><circle cx="12.5" cy="9" r="1.2" fill="#e8d28a"/>
</g></g>
<circle r="22.55" fill="none" stroke="#131313" stroke-width="1.9"/>
</g>
<text x="24.5" y="1313.0" font-size="16.0" fill="#403c3a" textLength="43.2" lengthAdjust="spacingAndGlyphs">Zavala</text>
<rect x="95.0" y="1342.5" width="212.6" height="53.6" fill="#38a444"/>
<text x="313.1" y="1377.0" font-size="21.0" fill="#1a1a1a" textLength="32.9" lengthAdjust="spacingAndGlyphs">14.8</text>
<g transform="translate(95.7 1370.5)">
<clipPath id="c23"><circle r="22.3"/></clipPath>
<g clip-path="url(#c23)"><g filter="url(#bl)">
<rect x="-23" y="-23" width="46" height="46" fill="#efebe9"/><path d="M-23 8C-18 6-14 10-12 16L-10 23H-23Z" fill="#1d1d26"/><path d="M-14 10L-9 14L-8 23H-14Z" fill="#f6f4f4"/><ellipse cx="3" cy="3" rx="16" ry="20.5" fill="#dfb297"/><ellipse cx="11" cy="5" rx="8" ry="15" fill="#c4957a" opacity=".6"/><path d="M-16-6C-18-18-8-23 3-23C14-23 20-17 18-8C15-14 10-17 3-16C-4-16-8-14-10-8L-12 0C-15-1-16-3-16-6Z" fill="#262020"/><ellipse cx="-13.5" cy="1" rx="2.4" ry="4.2" fill="#cf9a7c"/><ellipse cx="-1.0" cy="-3.7" rx="3.2" ry="2.2" fill="#55382c" opacity=".38"/><ellipse cx="-1.0" cy="-3.5" rx="1.8" ry="1.15" fill="#1c1412"/><ellipse cx="11.0" cy="-2.7" rx="3.1" ry="2.2" fill="#55382c" opacity=".38"/><ellipse cx="11.0" cy="-2.5" rx="1.7" ry="1.15" fill="#1c1412"/><path d="M-5.0 -7.0L2.0 -6.2" stroke="#1e1715" stroke-width="1.6" stroke-linecap="round"/><path d="M8.0 -6.0L14.0 -5.6" stroke="#1e1715" stroke-width="1.6" stroke-linecap="round"/><path d="M4-4C5 1 5 4 3 7" stroke="#b07c5e" stroke-width="1.1" fill="none"/><ellipse cx="5" cy="13" rx="4.2" ry="1.7" fill="#8c3f38"/><path d="M2 12.6H8" stroke="#f0dcd4" stroke-width=".8"/>
</g></g>
<circle r="22.55" fill="none" stroke="#131313" stroke-width="1.9"/>
</g>
<text x="25.3" y="1375.5" font-size="16.0" fill="#403c3a" textLength="42.4" lengthAdjust="spacingAndGlyphs">Osorio</text>
<rect x="95.0" y="1404.9" width="63.2" height="53.6" fill="#f4b807"/>
<text x="163.7" y="1439.5" font-size="21.0" fill="#1a1a1a" textLength="25.3" lengthAdjust="spacingAndGlyphs">4.4</text>
<g transform="translate(95.7 1432.9)">
<clipPath id="c24"><circle r="22.3"/></clipPath>
<g clip-path="url(#c24)"><g filter="url(#bl)">
<rect x="-23" y="-23" width="46" height="46" fill="#e4dfdc"/><ellipse cx="0" cy="4" rx="17.5" ry="22" fill="#d2a892"/><ellipse cx="0" cy="14" rx="13" ry="10" fill="#c99e88"/><path d="M-18-2C-20-17-9-23 0-23C10-23 20-17 18-2C16-10 12-15 8-15C3-16-4-16-9-15C-13-14-16-9-18-2Z" fill="#7f7a76"/><path d="M-9-15C-4-19 5-19 9-15C4-17-4-17-9-15Z" fill="#a39d98"/><ellipse cx="-17.5" cy="3" rx="2" ry="4.5" fill="#b98c76"/><ellipse cx="17.5" cy="3" rx="2" ry="4.5" fill="#b98c76"/><ellipse cx="-7.0" cy="-2.7" rx="3.3" ry="2.2" fill="#55382c" opacity=".38"/><ellipse cx="-7.0" cy="-2.5" rx="1.9" ry="1.15" fill="#241a18"/><ellipse cx="7.0" cy="-2.7" rx="3.3" ry="2.2" fill="#55382c" opacity=".38"/><ellipse cx="7.0" cy="-2.5" rx="1.9" ry="1.15" fill="#241a18"/><path d="M-11.0 -6.0L-3.5 -5.5" stroke="#4a403c" stroke-width="1.5" stroke-linecap="round"/><path d="M3.5 -5.5L11.0 -6.0" stroke="#4a403c" stroke-width="1.5" stroke-linecap="round"/><path d="M0-3C-1 2-2 5-1 7.5H2" stroke="#9a705c" stroke-width="1.1" fill="none"/><path d="M-5 13.5C-2 12 3 12 6 13.5" stroke="#7a4a40" stroke-width="1.4" fill="none"/><path d="M-8 10C-9 13-8 16-7 17M9 10C10 13 9 16 8 17" stroke="#a87c68" stroke-width=".9" fill="none"/>
</g></g>
<circle r="22.55" fill="none" stroke="#131313" stroke-width="1.9"/>
</g>
<text x="11.7" y="1437.9" font-size="16.0" fill="#403c3a" textLength="56.0" lengthAdjust="spacingAndGlyphs">Mancera</text>
<rect x="95.0" y="1467.3" width="372.0" height="53.6" fill="#b82d19"/>
<text x="417.5" y="1502.1" font-size="21.5" font-weight="700" fill="#f6ebe5" textLength="44.0" lengthAdjust="spacingAndGlyphs">25.9</text>
<g transform="translate(95.7 1495.3)">
<clipPath id="c25"><circle r="22.3"/></clipPath>
<g clip-path="url(#c25)"><g filter="url(#bl)">
<rect x="-23" y="-23" width="46" height="46" fill="#a7a5ad"/><path d="M-23 8C-18 8-14 12-12 23H-23Z" fill="#2a2a34"/><path d="M12 14C16 10 22 10 23 12V23H10Z" fill="#8a3a34"/><ellipse cx="1" cy="3" rx="15.5" ry="19" fill="#d8b09e"/><ellipse cx="-8" cy="6" rx="6" ry="12" fill="#c0978a" opacity=".55"/><path d="M-17 4C-22-14-10-23 2-23C14-23 22-13 17 4C16-6 13-11 8-12C2-10-6-12-10-10C-14-8-16-2-17 4Z" fill="#d9d6d6"/><path d="M-10-10C-4-16 6-16 12-11C6-13-2-13-10-10Z" fill="#efeded"/><path d="M-17 4C-19-2-19-10-15-15C-16-8-16-2-15 4Z" fill="#b9b6b8"/><ellipse cx="-6.0" cy="-2.2" rx="3.2" ry="2.2" fill="#55382c" opacity=".38"/><ellipse cx="-6.0" cy="-2.0" rx="1.8" ry="1.15" fill="#2a2020"/><ellipse cx="7.0" cy="-1.7" rx="3.2" ry="2.2" fill="#55382c" opacity=".38"/><ellipse cx="7.0" cy="-1.5" rx="1.8" ry="1.15" fill="#2a2020"/><path d="M-10.0 -5.5L-3.0 -5.0" stroke="#8d8684" stroke-width="1.3" stroke-linecap="round"/><path d="M4.0 -5.0L11.0 -5.0" stroke="#8d8684" stroke-width="1.3" stroke-linecap="round"/><path d="M1-2C0 3-1 6 0 8H3" stroke="#a67866" stroke-width="1.1" fill="none"/><path d="M-5 13C-2 12 3 12 6 13.5" stroke="#8a5246" stroke-width="1.3" fill="none"/>
</g></g>
<circle r="22.55" fill="none" stroke="#131313" stroke-width="1.9"/>
</g>
<text x="25.2" y="1500.3" font-size="16.0" fill="#403c3a" textLength="42.5" lengthAdjust="spacingAndGlyphs">AMLO</text>
<rect x="95.0" y="1529.8" width="66.1" height="53.6" fill="#582b80"/>
<text x="166.6" y="1564.4" font-size="21.0" fill="#1a1a1a" textLength="25.3" lengthAdjust="spacingAndGlyphs">4.6</text>
<g transform="translate(95.7 1557.8)">
<clipPath id="c26"><circle r="22.3"/></clipPath>
<g clip-path="url(#c26)"><g filter="url(#bl)">
<rect x="-23" y="-23" width="46" height="46" fill="#1e2740"/><path d="M-23-4C-18-8-16 2-15 10C-16 16-19 20-23 21Z" fill="#56688c"/><ellipse cx="5" cy="4" rx="16" ry="20.5" fill="#c4917a"/><ellipse cx="-4" cy="6" rx="7" ry="14" fill="#8f5f48" opacity=".7"/><ellipse cx="12" cy="2" rx="7" ry="12" fill="#cf9c7e" opacity=".7"/><path d="M-12-4C-15-17-5-23 5-23C15-23 22-17 20-8C17-13 12-15 6-15C-2-15-8-12-12-4Z" fill="#4b4644"/><path d="M-3-16C2-20 12-20 17-14C10-17 3-17-3-16Z" fill="#7a7472"/><ellipse cx="-12" cy="2" rx="2.4" ry="5" fill="#a67458"/><ellipse cx="0.0" cy="-2.7" rx="3.3" ry="2.2" fill="#55382c" opacity=".38"/><ellipse cx="0.0" cy="-2.5" rx="1.9" ry="1.15" fill="#1a1210"/><ellipse cx="13.0" cy="-1.7" rx="3.2" ry="2.2" fill="#55382c" opacity=".38"/><ellipse cx="13.0" cy="-1.5" rx="1.8" ry="1.15" fill="#1a1210"/><path d="M-4.0 -6.5L4.0 -5.0" stroke="#2a2220" stroke-width="1.8" stroke-linecap="round"/><path d="M9.0 -5.0L16.0 -5.5" stroke="#2a2220" stroke-width="1.8" stroke-linecap="round"/><path d="M7-3C7 2 6 5 7 7.5H10" stroke="#8a5a44" stroke-width="1.2" fill="none"/><ellipse cx="7" cy="13.5" rx="5.5" ry="2.6" fill="#3a1714"/><path d="M3 12.6H11" stroke="#e8d8cc" stroke-width="1"/>
</g></g>
<circle r="22.55" fill="none" stroke="#131313" stroke-width="1.9"/>
</g>
<text x="22.1" y="1562.8" font-size="16.0" fill="#403c3a" textLength="45.6" lengthAdjust="spacingAndGlyphs">Bronco</text>
<line x1="10.0" y1="1612.0" x2="467.0" y2="1612.0" stroke="#bfb6b2" stroke-width="1.00" stroke-dasharray="3 1"/>
<text x="511.1" y="1251.2" font-size="22.0" fill="#968f8d" textLength="190.0" lengthAdjust="spacingAndGlyphs">ENFRENTAMIENTO 2</text>
<text x="705.6" y="1251.2" font-size="12.5" fill="#2a2a2a" textLength="20.5" lengthAdjust="spacingAndGlyphs">(%)</text>
<line x1="595.3" y1="1274.0" x2="595.3" y2="1589.0" stroke="#2e2a29" stroke-width="0.90"/>
<circle cx="595.3" cy="1274.0" r="0.9" fill="#222"/><circle cx="595.3" cy="1589.0" r="0.9" fill="#222"/>
<rect x="595.3" y="1280.0" width="306.3" height="53.6" fill="#00779f"/>
<text x="907.1" y="1314.6" font-size="21.0" fill="#1a1a1a" textLength="35.5" lengthAdjust="spacingAndGlyphs">20.5</text>
<g transform="translate(596.0 1308.0)">
<clipPath id="c27"><circle r="22.3"/></clipPath>
<g clip-path="url(#c27)"><g filter="url(#bl)">
<rect x="-23" y="-23" width="46" height="46" fill="#f4f0ef"/><path d="M-23 8L-16 6L-12 23H-23Z" fill="#a324a6"/><path d="M-17 4L-10 8L-8 23H-15Z" fill="#fbfafa"/><ellipse cx="0" cy="1" rx="17" ry="21" fill="#e1b59c"/><ellipse cx="9" cy="4" rx="8" ry="15" fill="#c3957b" opacity=".55"/><path d="M-17-2C-19-15-8-22 2-22C10-22 14-19 16-15C10-18 2-18-4-15C-10-12-13-7-13-1Z" fill="#a97b64"/><ellipse cx="-14.5" cy="3" rx="2.3" ry="4.5" fill="#d6a78e"/><ellipse cx="-0.5" cy="-2.4" rx="3.0" ry="2.2" fill="#55382c" opacity=".38"/><ellipse cx="-0.5" cy="-2.2" rx="1.6" ry="1.15" fill="#3a2a26"/><ellipse cx="10.5" cy="-2.8" rx="3.0" ry="2.2" fill="#55382c" opacity=".38"/><ellipse cx="10.5" cy="-2.6" rx="1.6" ry="1.15" fill="#3a2a26"/><path d="M-13-2.6L17-3.2" stroke="#7d7a80" stroke-width="1.1"/><rect x="-5" y="-4.6" width="8.5" height="4.6" rx="1.5" fill="none" stroke="#8a878c" stroke-width=".8"/><rect x="6.5" y="-5" width="8.5" height="4.6" rx="1.5" fill="none" stroke="#8a878c" stroke-width=".8"/><path d="M6-1C7 3 7 5 5.5 7" stroke="#b98a70" stroke-width="1" fill="none"/><path d="M4 10.5C7 9.8 10 10 12 10.6" stroke="#8a5044" stroke-width="1.3" fill="none"/>
</g></g>
<circle r="22.55" fill="none" stroke="#131313" stroke-width="1.9"/>
</g>
<text x="527.2" y="1313.0" font-size="16.0" fill="#403c3a" textLength="40.8" lengthAdjust="spacingAndGlyphs">Anaya</text>
<rect x="595.3" y="1342.5" width="230.1" height="53.6" fill="#38a444"/>
<text x="830.9" y="1377.0" font-size="21.0" fill="#1a1a1a" textLength="32.9" lengthAdjust="spacingAndGlyphs">15.4</text>
<g transform="translate(596.0 1370.5)">
<clipPath id="c28"><circle r="22.3"/></clipPath>
<g clip-path="url(#c28)"><g filter="url(#bl)">
<rect x="-23" y="-23" width="46" height="46" fill="#efebe9"/><path d="M-23 8C-18 6-14 10-12 16L-10 23H-23Z" fill="#1d1d26"/><path d="M-14 10L-9 14L-8 23H-14Z" fill="#f6f4f4"/><ellipse cx="3" cy="3" rx="16" ry="20.5" fill="#dfb297"/><ellipse cx="11" cy="5" rx="8" ry="15" fill="#c4957a" opacity=".6"/><path d="M-16-6C-18-18-8-23 3-23C14-23 20-17 18-8C15-14 10-17 3-16C-4-16-8-14-10-8L-12 0C-15-1-16-3-16-6Z" fill="#262020"/><ellipse cx="-13.5" cy="1" rx="2.4" ry="4.2" fill="#cf9a7c"/><ellipse cx="-1.0" cy="-3.7" rx="3.2" ry="2.2" fill="#55382c" opacity=".38"/><ellipse cx="-1.0" cy="-3.5" rx="1.8" ry="1.15" fill="#1c1412"/><ellipse cx="11.0" cy="-2.7" rx="3.1" ry="2.2" fill="#55382c" opacity=".38"/><ellipse cx="11.0" cy="-2.5" rx="1.7" ry="1.15" fill="#1c1412"/><path d="M-5.0 -7.0L2.0 -6.2" stroke="#1e1715" stroke-width="1.6" stroke-linecap="round"/><path d="M8.0 -6.0L14.0 -5.6" stroke="#1e1715" stroke-width="1.6" stroke-linecap="round"/><path d="M4-4C5 1 5 4 3 7" stroke="#b07c5e" stroke-width="1.1" fill="none"/><ellipse cx="5" cy="13" rx="4.2" ry="1.7" fill="#8c3f38"/><path d="M2 12.6H8" stroke="#f0dcd4" stroke-width=".8"/>
</g></g>
<circle r="22.55" fill="none" stroke="#131313" stroke-width="1.9"/>
</g>
<text x="525.6" y="1375.5" font-size="16.0" fill="#403c3a" textLength="42.4" lengthAdjust="spacingAndGlyphs">Osorio</text>
<rect x="595.3" y="1404.9" width="77.7" height="53.6" fill="#f4b807"/>
<text x="678.5" y="1439.5" font-size="21.0" fill="#1a1a1a" textLength="25.3" lengthAdjust="spacingAndGlyphs">5.2</text>
<g transform="translate(596.0 1432.9)">
<clipPath id="c29"><circle r="22.3"/></clipPath>
<g clip-path="url(#c29)"><g filter="url(#bl)">
<rect x="-23" y="-23" width="46" height="46" fill="#e4dfdc"/><ellipse cx="0" cy="4" rx="17.5" ry="22" fill="#d2a892"/><ellipse cx="0" cy="14" rx="13" ry="10" fill="#c99e88"/><path d="M-18-2C-20-17-9-23 0-23C10-23 20-17 18-2C16-10 12-15 8-15C3-16-4-16-9-15C-13-14-16-9-18-2Z" fill="#7f7a76"/><path d="M-9-15C-4-19 5-19 9-15C4-17-4-17-9-15Z" fill="#a39d98"/><ellipse cx="-17.5" cy="3" rx="2" ry="4.5" fill="#b98c76"/><ellipse cx="17.5" cy="3" rx="2" ry="4.5" fill="#b98c76"/><ellipse cx="-7.0" cy="-2.7" rx="3.3" ry="2.2" fill="#55382c" opacity=".38"/><ellipse cx="-7.0" cy="-2.5" rx="1.9" ry="1.15" fill="#241a18"/><ellipse cx="7.0" cy="-2.7" rx="3.3" ry="2.2" fill="#55382c" opacity=".38"/><ellipse cx="7.0" cy="-2.5" rx="1.9" ry="1.15" fill="#241a18"/><path d="M-11.0 -6.0L-3.5 -5.5" stroke="#4a403c" stroke-width="1.5" stroke-linecap="round"/><path d="M3.5 -5.5L11.0 -6.0" stroke="#4a403c" stroke-width="1.5" stroke-linecap="round"/><path d="M0-3C-1 2-2 5-1 7.5H2" stroke="#9a705c" stroke-width="1.1" fill="none"/><path d="M-5 13.5C-2 12 3 12 6 13.5" stroke="#7a4a40" stroke-width="1.4" fill="none"/><path d="M-8 10C-9 13-8 16-7 17M9 10C10 13 9 16 8 17" stroke="#a87c68" stroke-width=".9" fill="none"/>
</g></g>
<circle r="22.55" fill="none" stroke="#131313" stroke-width="1.9"/>
</g>
<text x="512.0" y="1437.9" font-size="16.0" fill="#403c3a" textLength="56.0" lengthAdjust="spacingAndGlyphs">Mancera</text>
<rect x="595.3" y="1467.3" width="372.0" height="53.6" fill="#b82d19"/>
<text x="917.8" y="1502.1" font-size="21.5" font-weight="700" fill="#f6ebe5" textLength="44.0" lengthAdjust="spacingAndGlyphs">24.9</text>
<g transform="translate(596.0 1495.3)">
<clipPath id="c30"><circle r="22.3"/></clipPath>
<g clip-path="url(#c30)"><g filter="url(#bl)">
<rect x="-23" y="-23" width="46" height="46" fill="#a7a5ad"/><path d="M-23 8C-18 8-14 12-12 23H-23Z" fill="#2a2a34"/><path d="M12 14C16 10 22 10 23 12V23H10Z" fill="#8a3a34"/><ellipse cx="1" cy="3" rx="15.5" ry="19" fill="#d8b09e"/><ellipse cx="-8" cy="6" rx="6" ry="12" fill="#c0978a" opacity=".55"/><path d="M-17 4C-22-14-10-23 2-23C14-23 22-13 17 4C16-6 13-11 8-12C2-10-6-12-10-10C-14-8-16-2-17 4Z" fill="#d9d6d6"/><path d="M-10-10C-4-16 6-16 12-11C6-13-2-13-10-10Z" fill="#efeded"/><path d="M-17 4C-19-2-19-10-15-15C-16-8-16-2-15 4Z" fill="#b9b6b8"/><ellipse cx="-6.0" cy="-2.2" rx="3.2" ry="2.2" fill="#55382c" opacity=".38"/><ellipse cx="-6.0" cy="-2.0" rx="1.8" ry="1.15" fill="#2a2020"/><ellipse cx="7.0" cy="-1.7" rx="3.2" ry="2.2" fill="#55382c" opacity=".38"/><ellipse cx="7.0" cy="-1.5" rx="1.8" ry="1.15" fill="#2a2020"/><path d="M-10.0 -5.5L-3.0 -5.0" stroke="#8d8684" stroke-width="1.3" stroke-linecap="round"/><path d="M4.0 -5.0L11.0 -5.0" stroke="#8d8684" stroke-width="1.3" stroke-linecap="round"/><path d="M1-2C0 3-1 6 0 8H3" stroke="#a67866" stroke-width="1.1" fill="none"/><path d="M-5 13C-2 12 3 12 6 13.5" stroke="#8a5246" stroke-width="1.3" fill="none"/>
</g></g>
<circle r="22.55" fill="none" stroke="#131313" stroke-width="1.9"/>
</g>
<text x="525.5" y="1500.3" font-size="16.0" fill="#403c3a" textLength="42.5" lengthAdjust="spacingAndGlyphs">AMLO</text>
<rect x="595.3" y="1529.8" width="56.8" height="53.6" fill="#582b80"/>
<text x="657.6" y="1564.4" font-size="21.0" fill="#1a1a1a" textLength="25.3" lengthAdjust="spacingAndGlyphs">3.8</text>
<g transform="translate(596.0 1557.8)">
<clipPath id="c31"><circle r="22.3"/></clipPath>
<g clip-path="url(#c31)"><g filter="url(#bl)">
<rect x="-23" y="-23" width="46" height="46" fill="#1e2740"/><path d="M-23-4C-18-8-16 2-15 10C-16 16-19 20-23 21Z" fill="#56688c"/><ellipse cx="5" cy="4" rx="16" ry="20.5" fill="#c4917a"/><ellipse cx="-4" cy="6" rx="7" ry="14" fill="#8f5f48" opacity=".7"/><ellipse cx="12" cy="2" rx="7" ry="12" fill="#cf9c7e" opacity=".7"/><path d="M-12-4C-15-17-5-23 5-23C15-23 22-17 20-8C17-13 12-15 6-15C-2-15-8-12-12-4Z" fill="#4b4644"/><path d="M-3-16C2-20 12-20 17-14C10-17 3-17-3-16Z" fill="#7a7472"/><ellipse cx="-12" cy="2" rx="2.4" ry="5" fill="#a67458"/><ellipse cx="0.0" cy="-2.7" rx="3.3" ry="2.2" fill="#55382c" opacity=".38"/><ellipse cx="0.0" cy="-2.5" rx="1.9" ry="1.15" fill="#1a1210"/><ellipse cx="13.0" cy="-1.7" rx="3.2" ry="2.2" fill="#55382c" opacity=".38"/><ellipse cx="13.0" cy="-1.5" rx="1.8" ry="1.15" fill="#1a1210"/><path d="M-4.0 -6.5L4.0 -5.0" stroke="#2a2220" stroke-width="1.8" stroke-linecap="round"/><path d="M9.0 -5.0L16.0 -5.5" stroke="#2a2220" stroke-width="1.8" stroke-linecap="round"/><path d="M7-3C7 2 6 5 7 7.5H10" stroke="#8a5a44" stroke-width="1.2" fill="none"/><ellipse cx="7" cy="13.5" rx="5.5" ry="2.6" fill="#3a1714"/><path d="M3 12.6H11" stroke="#e8d8cc" stroke-width="1"/>
</g></g>
<circle r="22.55" fill="none" stroke="#131313" stroke-width="1.9"/>
</g>
<text x="522.4" y="1562.8" font-size="16.0" fill="#403c3a" textLength="45.6" lengthAdjust="spacingAndGlyphs">Bronco</text>
<line x1="510.3" y1="1612.0" x2="967.3" y2="1612.0" stroke="#bfb6b2" stroke-width="1.00" stroke-dasharray="3 1"/>
<text x="10.8" y="1651.5" font-size="22.0" fill="#968f8d" textLength="190.0" lengthAdjust="spacingAndGlyphs">ENFRENTAMIENTO 3</text>
<text x="205.3" y="1651.5" font-size="12.5" fill="#2a2a2a" textLength="20.5" lengthAdjust="spacingAndGlyphs">(%)</text>
<line x1="95.0" y1="1674.3" x2="95.0" y2="1989.3" stroke="#2e2a29" stroke-width="0.90"/>
<circle cx="95.0" cy="1674.3" r="0.9" fill="#222"/><circle cx="95.0" cy="1989.3" r="0.9" fill="#222"/>
<rect x="95.0" y="1680.3" width="280.1" height="53.6" fill="#00779f"/>
<text x="380.6" y="1714.9" font-size="21.0" fill="#1a1a1a" textLength="32.9" lengthAdjust="spacingAndGlyphs">19.8</text>
<g transform="translate(95.7 1708.3)">
<clipPath id="c32"><circle r="22.3"/></clipPath>
<g clip-path="url(#c32)"><g filter="url(#bl)">
<rect x="-23" y="-23" width="46" height="46" fill="#ece6d8"/><path d="M-23 12C-16 10-12 14-10 23H-23Z" fill="#22222c"/><path d="M-11 14L-6 18L-6 23H-11Z" fill="#f6f4f4"/><path d="M12 14L18 10L20 18L14 23Z" fill="#2a4a8a"/><ellipse cx="3" cy="2" rx="16" ry="20.5" fill="#d9a98f"/><ellipse cx="-5" cy="6" rx="6" ry="13" fill="#bd8a70" opacity=".55"/><path d="M-16-4C-18-17-8-23 2-22C10-22 15-19 15-12C10-16 2-17-4-15C-8-13-10-8-11-2C-14-1-16-2-16-4Z" fill="#4a3a33"/><ellipse cx="-14.5" cy="1" rx="2.3" ry="4.6" fill="#cf9c80"/><ellipse cx="-1.5" cy="-3.2" rx="3.1" ry="2.2" fill="#55382c" opacity=".38"/><ellipse cx="-1.5" cy="-3.0" rx="1.7" ry="1.15" fill="#3a4a6a"/><ellipse cx="10.0" cy="-4.7" rx="3.1" ry="2.2" fill="#55382c" opacity=".38"/><ellipse cx="10.0" cy="-4.5" rx="1.7" ry="1.15" fill="#3a3030"/><path d="M-6.0 -5.5L2.0 -6.5" stroke="#4a3830" stroke-width="1.3" stroke-linecap="round"/><path d="M7.0 -7.5L14.0 -6.5" stroke="#4a3830" stroke-width="1.3" stroke-linecap="round"/><path d="M6-3C7 2 7 5 5.5 7.5" stroke="#b5826a" stroke-width="1" fill="none"/><ellipse cx="6.5" cy="12.5" rx="4.6" ry="1.6" fill="#c77a70"/>
</g></g>
<circle r="22.55" fill="none" stroke="#131313" stroke-width="1.9"/>
</g>
<text x="18.9" y="1713.3" font-size="16.0" fill="#403c3a" textLength="48.8" lengthAdjust="spacingAndGlyphs">Moreno</text>
<rect x="95.0" y="1742.8" width="222.1" height="53.6" fill="#38a444"/>
<text x="322.6" y="1777.3" font-size="21.0" fill="#1a1a1a" textLength="31.7" lengthAdjust="spacingAndGlyphs">15.7</text>
<g transform="translate(95.7 1770.8)">
<clipPath id="c33"><circle r="22.3"/></clipPath>
<g clip-path="url(#c33)"><g filter="url(#bl)">
<rect x="-23" y="-23" width="46" height="46" fill="#efebe9"/><path d="M-23 8C-18 6-14 10-12 16L-10 23H-23Z" fill="#1d1d26"/><path d="M-14 10L-9 14L-8 23H-14Z" fill="#f6f4f4"/><ellipse cx="3" cy="3" rx="16" ry="20.5" fill="#dfb297"/><ellipse cx="11" cy="5" rx="8" ry="15" fill="#c4957a" opacity=".6"/><path d="M-16-6C-18-18-8-23 3-23C14-23 20-17 18-8C15-14 10-17 3-16C-4-16-8-14-10-8L-12 0C-15-1-16-3-16-6Z" fill="#262020"/><ellipse cx="-13.5" cy="1" rx="2.4" ry="4.2" fill="#cf9a7c"/><ellipse cx="-1.0" cy="-3.7" rx="3.2" ry="2.2" fill="#55382c" opacity=".38"/><ellipse cx="-1.0" cy="-3.5" rx="1.8" ry="1.15" fill="#1c1412"/><ellipse cx="11.0" cy="-2.7" rx="3.1" ry="2.2" fill="#55382c" opacity=".38"/><ellipse cx="11.0" cy="-2.5" rx="1.7" ry="1.15" fill="#1c1412"/><path d="M-5.0 -7.0L2.0 -6.2" stroke="#1e1715" stroke-width="1.6" stroke-linecap="round"/><path d="M8.0 -6.0L14.0 -5.6" stroke="#1e1715" stroke-width="1.6" stroke-linecap="round"/><path d="M4-4C5 1 5 4 3 7" stroke="#b07c5e" stroke-width="1.1" fill="none"/><ellipse cx="5" cy="13" rx="4.2" ry="1.7" fill="#8c3f38"/><path d="M2 12.6H8" stroke="#f0dcd4" stroke-width=".8"/>
</g></g>
<circle r="22.55" fill="none" stroke="#131313" stroke-width="1.9"/>
</g>
<text x="25.3" y="1775.8" font-size="16.0" fill="#403c3a" textLength="42.4" lengthAdjust="spacingAndGlyphs">Osorio</text>
<rect x="95.0" y="1805.2" width="63.7" height="53.6" fill="#f4b807"/>
<text x="164.2" y="1839.8" font-size="21.0" fill="#1a1a1a" textLength="25.3" lengthAdjust="spacingAndGlyphs">4.5</text>
<g transform="translate(95.7 1833.2)">
<clipPath id="c34"><circle r="22.3"/></clipPath>
<g clip-path="url(#c34)"><g filter="url(#bl)">
<rect x="-23" y="-23" width="46" height="46" fill="#e4dfdc"/><ellipse cx="0" cy="4" rx="17.5" ry="22" fill="#d2a892"/><ellipse cx="0" cy="14" rx="13" ry="10" fill="#c99e88"/><path d="M-18-2C-20-17-9-23 0-23C10-23 20-17 18-2C16-10 12-15 8-15C3-16-4-16-9-15C-13-14-16-9-18-2Z" fill="#7f7a76"/><path d="M-9-15C-4-19 5-19 9-15C4-17-4-17-9-15Z" fill="#a39d98"/><ellipse cx="-17.5" cy="3" rx="2" ry="4.5" fill="#b98c76"/><ellipse cx="17.5" cy="3" rx="2" ry="4.5" fill="#b98c76"/><ellipse cx="-7.0" cy="-2.7" rx="3.3" ry="2.2" fill="#55382c" opacity=".38"/><ellipse cx="-7.0" cy="-2.5" rx="1.9" ry="1.15" fill="#241a18"/><ellipse cx="7.0" cy="-2.7" rx="3.3" ry="2.2" fill="#55382c" opacity=".38"/><ellipse cx="7.0" cy="-2.5" rx="1.9" ry="1.15" fill="#241a18"/><path d="M-11.0 -6.0L-3.5 -5.5" stroke="#4a403c" stroke-width="1.5" stroke-linecap="round"/><path d="M3.5 -5.5L11.0 -6.0" stroke="#4a403c" stroke-width="1.5" stroke-linecap="round"/><path d="M0-3C-1 2-2 5-1 7.5H2" stroke="#9a705c" stroke-width="1.1" fill="none"/><path d="M-5 13.5C-2 12 3 12 6 13.5" stroke="#7a4a40" stroke-width="1.4" fill="none"/><path d="M-8 10C-9 13-8 16-7 17M9 10C10 13 9 16 8 17" stroke="#a87c68" stroke-width=".9" fill="none"/>
</g></g>
<circle r="22.55" fill="none" stroke="#131313" stroke-width="1.9"/>
</g>
<text x="11.7" y="1838.2" font-size="16.0" fill="#403c3a" textLength="56.0" lengthAdjust="spacingAndGlyphs">Mancera</text>
<rect x="95.0" y="1867.7" width="372.0" height="53.6" fill="#b82d19"/>
<text x="417.5" y="1902.5" font-size="21.5" font-weight="700" fill="#f6ebe5" textLength="44.0" lengthAdjust="spacingAndGlyphs">26.3</text>
<g transform="translate(95.7 1895.7)">
<clipPath id="c35"><circle r="22.3"/></clipPath>
<g clip-path="url(#c35)"><g filter="url(#bl)">
<rect x="-23" y="-23" width="46" height="46" fill="#a7a5ad"/><path d="M-23 8C-18 8-14 12-12 23H-23Z" fill="#2a2a34"/><path d="M12 14C16 10 22 10 23 12V23H10Z" fill="#8a3a34"/><ellipse cx="1" cy="3" rx="15.5" ry="19" fill="#d8b09e"/><ellipse cx="-8" cy="6" rx="6" ry="12" fill="#c0978a" opacity=".55"/><path d="M-17 4C-22-14-10-23 2-23C14-23 22-13 17 4C16-6 13-11 8-12C2-10-6-12-10-10C-14-8-16-2-17 4Z" fill="#d9d6d6"/><path d="M-10-10C-4-16 6-16 12-11C6-13-2-13-10-10Z" fill="#efeded"/><path d="M-17 4C-19-2-19-10-15-15C-16-8-16-2-15 4Z" fill="#b9b6b8"/><ellipse cx="-6.0" cy="-2.2" rx="3.2" ry="2.2" fill="#55382c" opacity=".38"/><ellipse cx="-6.0" cy="-2.0" rx="1.8" ry="1.15" fill="#2a2020"/><ellipse cx="7.0" cy="-1.7" rx="3.2" ry="2.2" fill="#55382c" opacity=".38"/><ellipse cx="7.0" cy="-1.5" rx="1.8" ry="1.15" fill="#2a2020"/><path d="M-10.0 -5.5L-3.0 -5.0" stroke="#8d8684" stroke-width="1.3" stroke-linecap="round"/><path d="M4.0 -5.0L11.0 -5.0" stroke="#8d8684" stroke-width="1.3" stroke-linecap="round"/><path d="M1-2C0 3-1 6 0 8H3" stroke="#a67866" stroke-width="1.1" fill="none"/><path d="M-5 13C-2 12 3 12 6 13.5" stroke="#8a5246" stroke-width="1.3" fill="none"/>
</g></g>
<circle r="22.55" fill="none" stroke="#131313" stroke-width="1.9"/>
</g>
<text x="25.2" y="1900.7" font-size="16.0" fill="#403c3a" textLength="42.5" lengthAdjust="spacingAndGlyphs">AMLO</text>
<rect x="95.0" y="1930.1" width="69.3" height="53.6" fill="#582b80"/>
<text x="169.8" y="1964.7" font-size="21.0" fill="#1a1a1a" textLength="25.3" lengthAdjust="spacingAndGlyphs">4.9</text>
<g transform="translate(95.7 1958.1)">
<clipPath id="c36"><circle r="22.3"/></clipPath>
<g clip-path="url(#c36)"><g filter="url(#bl)">
<rect x="-23" y="-23" width="46" height="46" fill="#1e2740"/><path d="M-23-4C-18-8-16 2-15 10C-16 16-19 20-23 21Z" fill="#56688c"/><ellipse cx="5" cy="4" rx="16" ry="20.5" fill="#c4917a"/><ellipse cx="-4" cy="6" rx="7" ry="14" fill="#8f5f48" opacity=".7"/><ellipse cx="12" cy="2" rx="7" ry="12" fill="#cf9c7e" opacity=".7"/><path d="M-12-4C-15-17-5-23 5-23C15-23 22-17 20-8C17-13 12-15 6-15C-2-15-8-12-12-4Z" fill="#4b4644"/><path d="M-3-16C2-20 12-20 17-14C10-17 3-17-3-16Z" fill="#7a7472"/><ellipse cx="-12" cy="2" rx="2.4" ry="5" fill="#a67458"/><ellipse cx="0.0" cy="-2.7" rx="3.3" ry="2.2" fill="#55382c" opacity=".38"/><ellipse cx="0.0" cy="-2.5" rx="1.9" ry="1.15" fill="#1a1210"/><ellipse cx="13.0" cy="-1.7" rx="3.2" ry="2.2" fill="#55382c" opacity=".38"/><ellipse cx="13.0" cy="-1.5" rx="1.8" ry="1.15" fill="#1a1210"/><path d="M-4.0 -6.5L4.0 -5.0" stroke="#2a2220" stroke-width="1.8" stroke-linecap="round"/><path d="M9.0 -5.0L16.0 -5.5" stroke="#2a2220" stroke-width="1.8" stroke-linecap="round"/><path d="M7-3C7 2 6 5 7 7.5H10" stroke="#8a5a44" stroke-width="1.2" fill="none"/><ellipse cx="7" cy="13.5" rx="5.5" ry="2.6" fill="#3a1714"/><path d="M3 12.6H11" stroke="#e8d8cc" stroke-width="1"/>
</g></g>
<circle r="22.55" fill="none" stroke="#131313" stroke-width="1.9"/>
</g>
<text x="22.1" y="1963.1" font-size="16.0" fill="#403c3a" textLength="45.6" lengthAdjust="spacingAndGlyphs">Bronco</text>
<line x1="10.0" y1="2012.3" x2="467.0" y2="2012.3" stroke="#bfb6b2" stroke-width="1.00" stroke-dasharray="3 1"/>
<text x="511.1" y="1651.5" font-size="22.0" fill="#968f8d" textLength="190.0" lengthAdjust="spacingAndGlyphs">ENFRENTAMIENTO 4</text>
<text x="705.6" y="1651.5" font-size="12.5" fill="#2a2a2a" textLength="20.5" lengthAdjust="spacingAndGlyphs">(%)</text>
<line x1="595.3" y1="1674.3" x2="595.3" y2="1989.3" stroke="#2e2a29" stroke-width="0.90"/>
<circle cx="595.3" cy="1674.3" r="0.9" fill="#222"/><circle cx="595.3" cy="1989.3" r="0.9" fill="#222"/>
<rect x="595.3" y="1680.3" width="268.6" height="53.6" fill="#00779f"/>
<text x="869.4" y="1714.9" font-size="21.0" fill="#1a1a1a" textLength="31.7" lengthAdjust="spacingAndGlyphs">18.7</text>
<g transform="translate(596.0 1708.3)">
<clipPath id="c37"><circle r="22.3"/></clipPath>
<g clip-path="url(#c37)"><g filter="url(#bl)">
<rect x="-23" y="-23" width="46" height="46" fill="#a9713f"/><path d="M-23-23H23V23H-23Z" fill="#9a6436"/><path d="M-20-8C-20-22 16-26 19-6C21 6 18 16 14 20L-14 20C-19 12-20 2-20-8Z" fill="#c08a52"/><path d="M-23 14C-12 10 10 12 23 8V23H-23Z" fill="#2a1d24"/><path d="M8 16L16 10L18 20L10 23Z" fill="#6a3a8a"/><path d="M-6 10H8V20H-6Z" fill="#cf9572"/><ellipse cx="-1" cy="-1" rx="12.2" ry="15.5" fill="#e2ad8a" transform="rotate(-8)"/><ellipse cx="5" cy="2" rx="6" ry="11" fill="#c98c68" opacity=".55" transform="rotate(-8)"/><path d="M-14-4C-15-16-8-20 0-20C9-20 14-15 13-5C10-12 5-15-1-15C-8-15-12-11-14-4Z" fill="#b47c46"/><path d="M11-8C16-4 16 8 13 14C11 8 12 0 11-8Z" fill="#8a5a30"/><path d="M-14-6C-17 0-16 8-13 12C-13 6-14 0-14-6Z" fill="#c89458"/><ellipse cx="-7.0" cy="-5.2" rx="2.9" ry="2.2" fill="#55382c" opacity=".38"/><ellipse cx="-7.0" cy="-5.0" rx="1.5" ry="1.15" fill="#2a1e1a"/><ellipse cx="3.0" cy="-6.2" rx="2.9" ry="2.2" fill="#55382c" opacity=".38"/><ellipse cx="3.0" cy="-6.0" rx="1.5" ry="1.15" fill="#2a1e1a"/><path d="M-10.0 -8.0L-5.0 -8.5" stroke="#6a4426" stroke-width="0.9" stroke-linecap="round"/><path d="M1.0 -9.0L6.0 -8.5" stroke="#6a4426" stroke-width="0.9" stroke-linecap="round"/><path d="M-1-4C-2 0-3 3-2 5" stroke="#b57a58" stroke-width="1" fill="none"/><path d="M-6 8C-3 10 2 10 5 7" stroke="#8e4638" stroke-width="1.3" fill="none"/><circle cx="12.5" cy="9" r="1.2" fill="#e8d28a"/>
</g></g>
<circle r="22.55" fill="none" stroke="#131313" stroke-width="1.9"/>
</g>
<text x="524.8" y="1713.3" font-size="16.0" fill="#403c3a" textLength="43.2" lengthAdjust="spacingAndGlyphs">Zavala</text>
<rect x="595.3" y="1742.8" width="195.3" height="53.6" fill="#38a444"/>
<text x="796.1" y="1777.3" font-size="21.0" fill="#1a1a1a" textLength="32.9" lengthAdjust="spacingAndGlyphs">13.6</text>
<g transform="translate(596.0 1770.8)">
<clipPath id="c38"><circle r="22.3"/></clipPath>
<g clip-path="url(#c38)"><g filter="url(#bl)">
<rect x="-23" y="-23" width="46" height="46" fill="#a9a5a8"/><path d="M-14 16L0 20L14 16V23H-14Z" fill="#f2f0f0"/><ellipse cx="0" cy="3" rx="15.5" ry="20" fill="#dfb29b"/><path d="M-17-6C-18-18-8-22 1-22C11-22 20-17 18-5C16-11 12-15 6-15C0-16-8-15-12-12C-14-10-16-8-17-6Z" fill="#7b726e"/><path d="M-9-15C-3-19 6-19 11-15C5-17-3-17-9-15Z" fill="#9b928e"/><ellipse cx="16" cy="2" rx="2" ry="4.5" fill="#cfa08a"/><ellipse cx="-15.5" cy="2" rx="2" ry="4.5" fill="#cfa08a"/><ellipse cx="-7.5" cy="-1.7" rx="3.2" ry="2.2" fill="#55382c" opacity=".38"/><ellipse cx="-7.5" cy="-1.5" rx="1.8" ry="1.15" fill="#3a3440"/><ellipse cx="4.5" cy="-1.7" rx="3.2" ry="2.2" fill="#55382c" opacity=".38"/><ellipse cx="4.5" cy="-1.5" rx="1.8" ry="1.15" fill="#3a3440"/><path d="M-11.0 -4.5L-4.0 -4.5" stroke="#6a5a52" stroke-width="1.1" stroke-linecap="round"/><path d="M1.0 -4.5L8.0 -4.5" stroke="#6a5a52" stroke-width="1.1" stroke-linecap="round"/><path d="M-1-1C-2 3-3 5-2 7.5H1" stroke="#b9876e" stroke-width="1" fill="none"/><path d="M-6 12C-3 11 2 11 5 12" stroke="#a85e50" stroke-width="1.3" fill="none"/>
</g></g>
<circle r="22.55" fill="none" stroke="#131313" stroke-width="1.9"/>
</g>
<text x="533.6" y="1775.8" font-size="16.0" fill="#403c3a" textLength="34.4" lengthAdjust="spacingAndGlyphs">Nuño</text>
<rect x="595.3" y="1805.2" width="73.3" height="53.6" fill="#f4b807"/>
<text x="674.1" y="1839.8" font-size="21.0" fill="#1a1a1a" textLength="22.7" lengthAdjust="spacingAndGlyphs">5.1</text>
<g transform="translate(596.0 1833.2)">
<clipPath id="c39"><circle r="22.3"/></clipPath>
<g clip-path="url(#c39)"><g filter="url(#bl)">
<rect x="-23" y="-23" width="46" height="46" fill="#e4dfdc"/><ellipse cx="0" cy="4" rx="17.5" ry="22" fill="#d2a892"/><ellipse cx="0" cy="14" rx="13" ry="10" fill="#c99e88"/><path d="M-18-2C-20-17-9-23 0-23C10-23 20-17 18-2C16-10 12-15 8-15C3-16-4-16-9-15C-13-14-16-9-18-2Z" fill="#7f7a76"/><path d="M-9-15C-4-19 5-19 9-15C4-17-4-17-9-15Z" fill="#a39d98"/><ellipse cx="-17.5" cy="3" rx="2" ry="4.5" fill="#b98c76"/><ellipse cx="17.5" cy="3" rx="2" ry="4.5" fill="#b98c76"/><ellipse cx="-7.0" cy="-2.7" rx="3.3" ry="2.2" fill="#55382c" opacity=".38"/><ellipse cx="-7.0" cy="-2.5" rx="1.9" ry="1.15" fill="#241a18"/><ellipse cx="7.0" cy="-2.7" rx="3.3" ry="2.2" fill="#55382c" opacity=".38"/><ellipse cx="7.0" cy="-2.5" rx="1.9" ry="1.15" fill="#241a18"/><path d="M-11.0 -6.0L-3.5 -5.5" stroke="#4a403c" stroke-width="1.5" stroke-linecap="round"/><path d="M3.5 -5.5L11.0 -6.0" stroke="#4a403c" stroke-width="1.5" stroke-linecap="round"/><path d="M0-3C-1 2-2 5-1 7.5H2" stroke="#9a705c" stroke-width="1.1" fill="none"/><path d="M-5 13.5C-2 12 3 12 6 13.5" stroke="#7a4a40" stroke-width="1.4" fill="none"/><path d="M-8 10C-9 13-8 16-7 17M9 10C10 13 9 16 8 17" stroke="#a87c68" stroke-width=".9" fill="none"/>
</g></g>
<circle r="22.55" fill="none" stroke="#131313" stroke-width="1.9"/>
</g>
<text x="512.0" y="1838.2" font-size="16.0" fill="#403c3a" textLength="56.0" lengthAdjust="spacingAndGlyphs">Mancera</text>
<rect x="595.3" y="1867.7" width="372.0" height="53.6" fill="#b82d19"/>
<text x="917.8" y="1902.5" font-size="21.5" font-weight="700" fill="#f6ebe5" textLength="44.0" lengthAdjust="spacingAndGlyphs">25.9</text>
<g transform="translate(596.0 1895.7)">
<clipPath id="c40"><circle r="22.3"/></clipPath>
<g clip-path="url(#c40)"><g filter="url(#bl)">
<rect x="-23" y="-23" width="46" height="46" fill="#a7a5ad"/><path d="M-23 8C-18 8-14 12-12 23H-23Z" fill="#2a2a34"/><path d="M12 14C16 10 22 10 23 12V23H10Z" fill="#8a3a34"/><ellipse cx="1" cy="3" rx="15.5" ry="19" fill="#d8b09e"/><ellipse cx="-8" cy="6" rx="6" ry="12" fill="#c0978a" opacity=".55"/><path d="M-17 4C-22-14-10-23 2-23C14-23 22-13 17 4C16-6 13-11 8-12C2-10-6-12-10-10C-14-8-16-2-17 4Z" fill="#d9d6d6"/><path d="M-10-10C-4-16 6-16 12-11C6-13-2-13-10-10Z" fill="#efeded"/><path d="M-17 4C-19-2-19-10-15-15C-16-8-16-2-15 4Z" fill="#b9b6b8"/><ellipse cx="-6.0" cy="-2.2" rx="3.2" ry="2.2" fill="#55382c" opacity=".38"/><ellipse cx="-6.0" cy="-2.0" rx="1.8" ry="1.15" fill="#2a2020"/><ellipse cx="7.0" cy="-1.7" rx="3.2" ry="2.2" fill="#55382c" opacity=".38"/><ellipse cx="7.0" cy="-1.5" rx="1.8" ry="1.15" fill="#2a2020"/><path d="M-10.0 -5.5L-3.0 -5.0" stroke="#8d8684" stroke-width="1.3" stroke-linecap="round"/><path d="M4.0 -5.0L11.0 -5.0" stroke="#8d8684" stroke-width="1.3" stroke-linecap="round"/><path d="M1-2C0 3-1 6 0 8H3" stroke="#a67866" stroke-width="1.1" fill="none"/><path d="M-5 13C-2 12 3 12 6 13.5" stroke="#8a5246" stroke-width="1.3" fill="none"/>
</g></g>
<circle r="22.55" fill="none" stroke="#131313" stroke-width="1.9"/>
</g>
<text x="525.5" y="1900.7" font-size="16.0" fill="#403c3a" textLength="42.5" lengthAdjust="spacingAndGlyphs">AMLO</text>
<rect x="595.3" y="1930.1" width="71.8" height="53.6" fill="#582b80"/>
<text x="672.6" y="1964.7" font-size="21.0" fill="#1a1a1a" textLength="25.3" lengthAdjust="spacingAndGlyphs">5.0</text>
<g transform="translate(596.0 1958.1)">
<clipPath id="c41"><circle r="22.3"/></clipPath>
<g clip-path="url(#c41)"><g filter="url(#bl)">
<rect x="-23" y="-23" width="46" height="46" fill="#1e2740"/><path d="M-23-4C-18-8-16 2-15 10C-16 16-19 20-23 21Z" fill="#56688c"/><ellipse cx="5" cy="4" rx="16" ry="20.5" fill="#c4917a"/><ellipse cx="-4" cy="6" rx="7" ry="14" fill="#8f5f48" opacity=".7"/><ellipse cx="12" cy="2" rx="7" ry="12" fill="#cf9c7e" opacity=".7"/><path d="M-12-4C-15-17-5-23 5-23C15-23 22-17 20-8C17-13 12-15 6-15C-2-15-8-12-12-4Z" fill="#4b4644"/><path d="M-3-16C2-20 12-20 17-14C10-17 3-17-3-16Z" fill="#7a7472"/><ellipse cx="-12" cy="2" rx="2.4" ry="5" fill="#a67458"/><ellipse cx="0.0" cy="-2.7" rx="3.3" ry="2.2" fill="#55382c" opacity=".38"/><ellipse cx="0.0" cy="-2.5" rx="1.9" ry="1.15" fill="#1a1210"/><ellipse cx="13.0" cy="-1.7" rx="3.2" ry="2.2" fill="#55382c" opacity=".38"/><ellipse cx="13.0" cy="-1.5" rx="1.8" ry="1.15" fill="#1a1210"/><path d="M-4.0 -6.5L4.0 -5.0" stroke="#2a2220" stroke-width="1.8" stroke-linecap="round"/><path d="M9.0 -5.0L16.0 -5.5" stroke="#2a2220" stroke-width="1.8" stroke-linecap="round"/><path d="M7-3C7 2 6 5 7 7.5H10" stroke="#8a5a44" stroke-width="1.2" fill="none"/><ellipse cx="7" cy="13.5" rx="5.5" ry="2.6" fill="#3a1714"/><path d="M3 12.6H11" stroke="#e8d8cc" stroke-width="1"/>
</g></g>
<circle r="22.55" fill="none" stroke="#131313" stroke-width="1.9"/>
</g>
<text x="522.4" y="1963.1" font-size="16.0" fill="#403c3a" textLength="45.6" lengthAdjust="spacingAndGlyphs">Bronco</text>
<line x1="510.3" y1="2012.3" x2="967.3" y2="2012.3" stroke="#bfb6b2" stroke-width="1.00" stroke-dasharray="3 1"/>
<text x="10.8" y="2052.0" font-size="22.0" fill="#968f8d" textLength="190.0" lengthAdjust="spacingAndGlyphs">ENFRENTAMIENTO 5</text>
<text x="205.3" y="2052.0" font-size="12.5" fill="#2a2a2a" textLength="20.5" lengthAdjust="spacingAndGlyphs">(%)</text>
<line x1="95.0" y1="2074.8" x2="95.0" y2="2389.8" stroke="#2e2a29" stroke-width="0.90"/>
<circle cx="95.0" cy="2074.8" r="0.9" fill="#222"/><circle cx="95.0" cy="2389.8" r="0.9" fill="#222"/>
<rect x="95.0" y="2080.8" width="274.0" height="53.6" fill="#00779f"/>
<text x="374.5" y="2115.4" font-size="21.0" fill="#1a1a1a" textLength="32.9" lengthAdjust="spacingAndGlyphs">19.3</text>
<g transform="translate(95.7 2108.8)">
<clipPath id="c42"><circle r="22.3"/></clipPath>
<g clip-path="url(#c42)"><g filter="url(#bl)">
<rect x="-23" y="-23" width="46" height="46" fill="#a9713f"/><path d="M-23-23H23V23H-23Z" fill="#9a6436"/><path d="M-20-8C-20-22 16-26 19-6C21 6 18 16 14 20L-14 20C-19 12-20 2-20-8Z" fill="#c08a52"/><path d="M-23 14C-12 10 10 12 23 8V23H-23Z" fill="#2a1d24"/><path d="M8 16L16 10L18 20L10 23Z" fill="#6a3a8a"/><path d="M-6 10H8V20H-6Z" fill="#cf9572"/><ellipse cx="-1" cy="-1" rx="12.2" ry="15.5" fill="#e2ad8a" transform="rotate(-8)"/><ellipse cx="5" cy="2" rx="6" ry="11" fill="#c98c68" opacity=".55" transform="rotate(-8)"/><path d="M-14-4C-15-16-8-20 0-20C9-20 14-15 13-5C10-12 5-15-1-15C-8-15-12-11-14-4Z" fill="#b47c46"/><path d="M11-8C16-4 16 8 13 14C11 8 12 0 11-8Z" fill="#8a5a30"/><path d="M-14-6C-17 0-16 8-13 12C-13 6-14 0-14-6Z" fill="#c89458"/><ellipse cx="-7.0" cy="-5.2" rx="2.9" ry="2.2" fill="#55382c" opacity=".38"/><ellipse cx="-7.0" cy="-5.0" rx="1.5" ry="1.15" fill="#2a1e1a"/><ellipse cx="3.0" cy="-6.2" rx="2.9" ry="2.2" fill="#55382c" opacity=".38"/><ellipse cx="3.0" cy="-6.0" rx="1.5" ry="1.15" fill="#2a1e1a"/><path d="M-10.0 -8.0L-5.0 -8.5" stroke="#6a4426" stroke-width="0.9" stroke-linecap="round"/><path d="M1.0 -9.0L6.0 -8.5" stroke="#6a4426" stroke-width="0.9" stroke-linecap="round"/><path d="M-1-4C-2 0-3 3-2 5" stroke="#b57a58" stroke-width="1" fill="none"/><path d="M-6 8C-3 10 2 10 5 7" stroke="#8e4638" stroke-width="1.3" fill="none"/><circle cx="12.5" cy="9" r="1.2" fill="#e8d28a"/>
</g></g>
<circle r="22.55" fill="none" stroke="#131313" stroke-width="1.9"/>
</g>
<text x="24.5" y="2113.8" font-size="16.0" fill="#403c3a" textLength="43.2" lengthAdjust="spacingAndGlyphs">Zavala</text>
<rect x="95.0" y="2143.2" width="181.7" height="53.6" fill="#38a444"/>
<text x="282.2" y="2177.8" font-size="21.0" fill="#1a1a1a" textLength="32.9" lengthAdjust="spacingAndGlyphs">12.8</text>
<g transform="translate(95.7 2171.2)">
<clipPath id="c43"><circle r="22.3"/></clipPath>
<g clip-path="url(#c43)"><g filter="url(#bl)">
<rect x="-23" y="-23" width="46" height="46" fill="#f3f0ef"/><ellipse cx="0" cy="3" rx="17" ry="21.5" fill="#dfa78e"/><ellipse cx="9" cy="4" rx="7" ry="14" fill="#cf9178" opacity=".5"/><path d="M-17-2C-18-16-8-22 2-22C12-22 19-14 18 6C15 2 14-6 11-11C6-16-2-17-8-14C-13-11-15-7-17-2Z" fill="#8c827e"/><path d="M-8-14C-2-19 8-18 12-10C6-15-2-16-8-14Z" fill="#b79a8c"/><ellipse cx="-9.0" cy="-1.2" rx="3.2" ry="2.2" fill="#55382c" opacity=".38"/><ellipse cx="-9.0" cy="-1.0" rx="1.8" ry="1.15" fill="#4a5a6a"/><ellipse cx="3.0" cy="-2.7" rx="3.2" ry="2.2" fill="#55382c" opacity=".38"/><ellipse cx="3.0" cy="-2.5" rx="1.8" ry="1.15" fill="#3a4450"/><path d="M-13.0 -3.0L-6.0 -4.5" stroke="#8a766c" stroke-width="1.0" stroke-linecap="round"/><path d="M0.0 -5.5L7.0 -5.0" stroke="#8a766c" stroke-width="1.0" stroke-linecap="round"/><path d="M-2-1C-3 4-4 6-3 8.5H0" stroke="#b87e66" stroke-width="1" fill="none"/><ellipse cx="-1" cy="14.5" rx="4.6" ry="2" fill="#6a2a26"/><path d="M-4 13.8H2" stroke="#f0e0d8" stroke-width=".8"/>
</g></g>
<circle r="22.55" fill="none" stroke="#131313" stroke-width="1.9"/>
</g>
<text x="23.7" y="2176.2" font-size="16.0" fill="#403c3a" textLength="44.0" lengthAdjust="spacingAndGlyphs">Meade</text>
<rect x="95.0" y="2205.7" width="71.0" height="53.6" fill="#f4b807"/>
<text x="171.5" y="2240.3" font-size="21.0" fill="#1a1a1a" textLength="25.3" lengthAdjust="spacingAndGlyphs">5.0</text>
<g transform="translate(95.7 2233.7)">
<clipPath id="c44"><circle r="22.3"/></clipPath>
<g clip-path="url(#c44)"><g filter="url(#bl)">
<rect x="-23" y="-23" width="46" height="46" fill="#e4dfdc"/><ellipse cx="0" cy="4" rx="17.5" ry="22" fill="#d2a892"/><ellipse cx="0" cy="14" rx="13" ry="10" fill="#c99e88"/><path d="M-18-2C-20-17-9-23 0-23C10-23 20-17 18-2C16-10 12-15 8-15C3-16-4-16-9-15C-13-14-16-9-18-2Z" fill="#7f7a76"/><path d="M-9-15C-4-19 5-19 9-15C4-17-4-17-9-15Z" fill="#a39d98"/><ellipse cx="-17.5" cy="3" rx="2" ry="4.5" fill="#b98c76"/><ellipse cx="17.5" cy="3" rx="2" ry="4.5" fill="#b98c76"/><ellipse cx="-7.0" cy="-2.7" rx="3.3" ry="2.2" fill="#55382c" opacity=".38"/><ellipse cx="-7.0" cy="-2.5" rx="1.9" ry="1.15" fill="#241a18"/><ellipse cx="7.0" cy="-2.7" rx="3.3" ry="2.2" fill="#55382c" opacity=".38"/><ellipse cx="7.0" cy="-2.5" rx="1.9" ry="1.15" fill="#241a18"/><path d="M-11.0 -6.0L-3.5 -5.5" stroke="#4a403c" stroke-width="1.5" stroke-linecap="round"/><path d="M3.5 -5.5L11.0 -6.0" stroke="#4a403c" stroke-width="1.5" stroke-linecap="round"/><path d="M0-3C-1 2-2 5-1 7.5H2" stroke="#9a705c" stroke-width="1.1" fill="none"/><path d="M-5 13.5C-2 12 3 12 6 13.5" stroke="#7a4a40" stroke-width="1.4" fill="none"/><path d="M-8 10C-9 13-8 16-7 17M9 10C10 13 9 16 8 17" stroke="#a87c68" stroke-width=".9" fill="none"/>
</g></g>
<circle r="22.55" fill="none" stroke="#131313" stroke-width="1.9"/>
</g>
<text x="11.7" y="2238.7" font-size="16.0" fill="#403c3a" textLength="56.0" lengthAdjust="spacingAndGlyphs">Mancera</text>
<rect x="95.0" y="2268.2" width="372.0" height="53.6" fill="#b82d19"/>
<text x="417.5" y="2303.0" font-size="21.5" font-weight="700" fill="#f6ebe5" textLength="44.0" lengthAdjust="spacingAndGlyphs">26.2</text>
<g transform="translate(95.7 2296.2)">
<clipPath id="c45"><circle r="22.3"/></clipPath>
<g clip-path="url(#c45)"><g filter="url(#bl)">
<rect x="-23" y="-23" width="46" height="46" fill="#a7a5ad"/><path d="M-23 8C-18 8-14 12-12 23H-23Z" fill="#2a2a34"/><path d="M12 14C16 10 22 10 23 12V23H10Z" fill="#8a3a34"/><ellipse cx="1" cy="3" rx="15.5" ry="19" fill="#d8b09e"/><ellipse cx="-8" cy="6" rx="6" ry="12" fill="#c0978a" opacity=".55"/><path d="M-17 4C-22-14-10-23 2-23C14-23 22-13 17 4C16-6 13-11 8-12C2-10-6-12-10-10C-14-8-16-2-17 4Z" fill="#d9d6d6"/><path d="M-10-10C-4-16 6-16 12-11C6-13-2-13-10-10Z" fill="#efeded"/><path d="M-17 4C-19-2-19-10-15-15C-16-8-16-2-15 4Z" fill="#b9b6b8"/><ellipse cx="-6.0" cy="-2.2" rx="3.2" ry="2.2" fill="#55382c" opacity=".38"/><ellipse cx="-6.0" cy="-2.0" rx="1.8" ry="1.15" fill="#2a2020"/><ellipse cx="7.0" cy="-1.7" rx="3.2" ry="2.2" fill="#55382c" opacity=".38"/><ellipse cx="7.0" cy="-1.5" rx="1.8" ry="1.15" fill="#2a2020"/><path d="M-10.0 -5.5L-3.0 -5.0" stroke="#8d8684" stroke-width="1.3" stroke-linecap="round"/><path d="M4.0 -5.0L11.0 -5.0" stroke="#8d8684" stroke-width="1.3" stroke-linecap="round"/><path d="M1-2C0 3-1 6 0 8H3" stroke="#a67866" stroke-width="1.1" fill="none"/><path d="M-5 13C-2 12 3 12 6 13.5" stroke="#8a5246" stroke-width="1.3" fill="none"/>
</g></g>
<circle r="22.55" fill="none" stroke="#131313" stroke-width="1.9"/>
</g>
<text x="25.2" y="2301.2" font-size="16.0" fill="#403c3a" textLength="42.5" lengthAdjust="spacingAndGlyphs">AMLO</text>
<rect x="95.0" y="2330.6" width="63.9" height="53.6" fill="#582b80"/>
<text x="164.4" y="2365.2" font-size="21.0" fill="#1a1a1a" textLength="25.3" lengthAdjust="spacingAndGlyphs">4.5</text>
<g transform="translate(95.7 2358.6)">
<clipPath id="c46"><circle r="22.3"/></clipPath>
<g clip-path="url(#c46)"><g filter="url(#bl)">
<rect x="-23" y="-23" width="46" height="46" fill="#1e2740"/><path d="M-23-4C-18-8-16 2-15 10C-16 16-19 20-23 21Z" fill="#56688c"/><ellipse cx="5" cy="4" rx="16" ry="20.5" fill="#c4917a"/><ellipse cx="-4" cy="6" rx="7" ry="14" fill="#8f5f48" opacity=".7"/><ellipse cx="12" cy="2" rx="7" ry="12" fill="#cf9c7e" opacity=".7"/><path d="M-12-4C-15-17-5-23 5-23C15-23 22-17 20-8C17-13 12-15 6-15C-2-15-8-12-12-4Z" fill="#4b4644"/><path d="M-3-16C2-20 12-20 17-14C10-17 3-17-3-16Z" fill="#7a7472"/><ellipse cx="-12" cy="2" rx="2.4" ry="5" fill="#a67458"/><ellipse cx="0.0" cy="-2.7" rx="3.3" ry="2.2" fill="#55382c" opacity=".38"/><ellipse cx="0.0" cy="-2.5" rx="1.9" ry="1.15" fill="#1a1210"/><ellipse cx="13.0" cy="-1.7" rx="3.2" ry="2.2" fill="#55382c" opacity=".38"/><ellipse cx="13.0" cy="-1.5" rx="1.8" ry="1.15" fill="#1a1210"/><path d="M-4.0 -6.5L4.0 -5.0" stroke="#2a2220" stroke-width="1.8" stroke-linecap="round"/><path d="M9.0 -5.0L16.0 -5.5" stroke="#2a2220" stroke-width="1.8" stroke-linecap="round"/><path d="M7-3C7 2 6 5 7 7.5H10" stroke="#8a5a44" stroke-width="1.2" fill="none"/><ellipse cx="7" cy="13.5" rx="5.5" ry="2.6" fill="#3a1714"/><path d="M3 12.6H11" stroke="#e8d8cc" stroke-width="1"/>
</g></g>
<circle r="22.55" fill="none" stroke="#131313" stroke-width="1.9"/>
</g>
<text x="22.1" y="2363.6" font-size="16.0" fill="#403c3a" textLength="45.6" lengthAdjust="spacingAndGlyphs">Bronco</text>
<text x="511.1" y="2052.0" font-size="22.0" fill="#968f8d" textLength="190.0" lengthAdjust="spacingAndGlyphs">ENFRENTAMIENTO 6</text>
<text x="705.6" y="2052.0" font-size="12.5" fill="#2a2a2a" textLength="20.5" lengthAdjust="spacingAndGlyphs">(%)</text>
<line x1="595.3" y1="2074.8" x2="595.3" y2="2389.8" stroke="#2e2a29" stroke-width="0.90"/>
<circle cx="595.3" cy="2074.8" r="0.9" fill="#222"/><circle cx="595.3" cy="2389.8" r="0.9" fill="#222"/>
<rect x="595.3" y="2080.8" width="292.1" height="53.6" fill="#00779f"/>
<text x="892.9" y="2115.4" font-size="21.0" fill="#1a1a1a" textLength="32.9" lengthAdjust="spacingAndGlyphs">20.1</text>
<g transform="translate(596.0 2108.8)">
<clipPath id="c47"><circle r="22.3"/></clipPath>
<g clip-path="url(#c47)"><g filter="url(#bl)">
<rect x="-23" y="-23" width="46" height="46" fill="#f4f0ef"/><path d="M-23 8L-16 6L-12 23H-23Z" fill="#a324a6"/><path d="M-17 4L-10 8L-8 23H-15Z" fill="#fbfafa"/><ellipse cx="0" cy="1" rx="17" ry="21" fill="#e1b59c"/><ellipse cx="9" cy="4" rx="8" ry="15" fill="#c3957b" opacity=".55"/><path d="M-17-2C-19-15-8-22 2-22C10-22 14-19 16-15C10-18 2-18-4-15C-10-12-13-7-13-1Z" fill="#a97b64"/><ellipse cx="-14.5" cy="3" rx="2.3" ry="4.5" fill="#d6a78e"/><ellipse cx="-0.5" cy="-2.4" rx="3.0" ry="2.2" fill="#55382c" opacity=".38"/><ellipse cx="-0.5" cy="-2.2" rx="1.6" ry="1.15" fill="#3a2a26"/><ellipse cx="10.5" cy="-2.8" rx="3.0" ry="2.2" fill="#55382c" opacity=".38"/><ellipse cx="10.5" cy="-2.6" rx="1.6" ry="1.15" fill="#3a2a26"/><path d="M-13-2.6L17-3.2" stroke="#7d7a80" stroke-width="1.1"/><rect x="-5" y="-4.6" width="8.5" height="4.6" rx="1.5" fill="none" stroke="#8a878c" stroke-width=".8"/><rect x="6.5" y="-5" width="8.5" height="4.6" rx="1.5" fill="none" stroke="#8a878c" stroke-width=".8"/><path d="M6-1C7 3 7 5 5.5 7" stroke="#b98a70" stroke-width="1" fill="none"/><path d="M4 10.5C7 9.8 10 10 12 10.6" stroke="#8a5044" stroke-width="1.3" fill="none"/>
</g></g>
<circle r="22.55" fill="none" stroke="#131313" stroke-width="1.9"/>
</g>
<text x="527.2" y="2113.8" font-size="16.0" fill="#403c3a" textLength="40.8" lengthAdjust="spacingAndGlyphs">Anaya</text>
<rect x="595.3" y="2143.2" width="190.4" height="53.6" fill="#38a444"/>
<text x="791.2" y="2177.8" font-size="21.0" fill="#1a1a1a" textLength="30.2" lengthAdjust="spacingAndGlyphs">13.1</text>
<g transform="translate(596.0 2171.2)">
<clipPath id="c48"><circle r="22.3"/></clipPath>
<g clip-path="url(#c48)"><g filter="url(#bl)">
<rect x="-23" y="-23" width="46" height="46" fill="#f3f0ef"/><ellipse cx="0" cy="3" rx="17" ry="21.5" fill="#dfa78e"/><ellipse cx="9" cy="4" rx="7" ry="14" fill="#cf9178" opacity=".5"/><path d="M-17-2C-18-16-8-22 2-22C12-22 19-14 18 6C15 2 14-6 11-11C6-16-2-17-8-14C-13-11-15-7-17-2Z" fill="#8c827e"/><path d="M-8-14C-2-19 8-18 12-10C6-15-2-16-8-14Z" fill="#b79a8c"/><ellipse cx="-9.0" cy="-1.2" rx="3.2" ry="2.2" fill="#55382c" opacity=".38"/><ellipse cx="-9.0" cy="-1.0" rx="1.8" ry="1.15" fill="#4a5a6a"/><ellipse cx="3.0" cy="-2.7" rx="3.2" ry="2.2" fill="#55382c" opacity=".38"/><ellipse cx="3.0" cy="-2.5" rx="1.8" ry="1.15" fill="#3a4450"/><path d="M-13.0 -3.0L-6.0 -4.5" stroke="#8a766c" stroke-width="1.0" stroke-linecap="round"/><path d="M0.0 -5.5L7.0 -5.0" stroke="#8a766c" stroke-width="1.0" stroke-linecap="round"/><path d="M-2-1C-3 4-4 6-3 8.5H0" stroke="#b87e66" stroke-width="1" fill="none"/><ellipse cx="-1" cy="14.5" rx="4.6" ry="2" fill="#6a2a26"/><path d="M-4 13.8H2" stroke="#f0e0d8" stroke-width=".8"/>
</g></g>
<circle r="22.55" fill="none" stroke="#131313" stroke-width="1.9"/>
</g>
<text x="524.0" y="2176.2" font-size="16.0" fill="#403c3a" textLength="44.0" lengthAdjust="spacingAndGlyphs">Meade</text>
<rect x="595.3" y="2205.7" width="71.2" height="53.6" fill="#f4b807"/>
<text x="672.0" y="2240.3" font-size="21.0" fill="#1a1a1a" textLength="25.3" lengthAdjust="spacingAndGlyphs">4.9</text>
<g transform="translate(596.0 2233.7)">
<clipPath id="c49"><circle r="22.3"/></clipPath>
<g clip-path="url(#c49)"><g filter="url(#bl)">
<rect x="-23" y="-23" width="46" height="46" fill="#e4dfdc"/><ellipse cx="0" cy="4" rx="17.5" ry="22" fill="#d2a892"/><ellipse cx="0" cy="14" rx="13" ry="10" fill="#c99e88"/><path d="M-18-2C-20-17-9-23 0-23C10-23 20-17 18-2C16-10 12-15 8-15C3-16-4-16-9-15C-13-14-16-9-18-2Z" fill="#7f7a76"/><path d="M-9-15C-4-19 5-19 9-15C4-17-4-17-9-15Z" fill="#a39d98"/><ellipse cx="-17.5" cy="3" rx="2" ry="4.5" fill="#b98c76"/><ellipse cx="17.5" cy="3" rx="2" ry="4.5" fill="#b98c76"/><ellipse cx="-7.0" cy="-2.7" rx="3.3" ry="2.2" fill="#55382c" opacity=".38"/><ellipse cx="-7.0" cy="-2.5" rx="1.9" ry="1.15" fill="#241a18"/><ellipse cx="7.0" cy="-2.7" rx="3.3" ry="2.2" fill="#55382c" opacity=".38"/><ellipse cx="7.0" cy="-2.5" rx="1.9" ry="1.15" fill="#241a18"/><path d="M-11.0 -6.0L-3.5 -5.5" stroke="#4a403c" stroke-width="1.5" stroke-linecap="round"/><path d="M3.5 -5.5L11.0 -6.0" stroke="#4a403c" stroke-width="1.5" stroke-linecap="round"/><path d="M0-3C-1 2-2 5-1 7.5H2" stroke="#9a705c" stroke-width="1.1" fill="none"/><path d="M-5 13.5C-2 12 3 12 6 13.5" stroke="#7a4a40" stroke-width="1.4" fill="none"/><path d="M-8 10C-9 13-8 16-7 17M9 10C10 13 9 16 8 17" stroke="#a87c68" stroke-width=".9" fill="none"/>
</g></g>
<circle r="22.55" fill="none" stroke="#131313" stroke-width="1.9"/>
</g>
<text x="512.0" y="2238.7" font-size="16.0" fill="#403c3a" textLength="56.0" lengthAdjust="spacingAndGlyphs">Mancera</text>
<rect x="595.3" y="2268.2" width="372.0" height="53.6" fill="#b82d19"/>
<text x="917.8" y="2303.0" font-size="21.5" font-weight="700" fill="#f6ebe5" textLength="44.0" lengthAdjust="spacingAndGlyphs">25.6</text>
<g transform="translate(596.0 2296.2)">
<clipPath id="c50"><circle r="22.3"/></clipPath>
<g clip-path="url(#c50)"><g filter="url(#bl)">
<rect x="-23" y="-23" width="46" height="46" fill="#a7a5ad"/><path d="M-23 8C-18 8-14 12-12 23H-23Z" fill="#2a2a34"/><path d="M12 14C16 10 22 10 23 12V23H10Z" fill="#8a3a34"/><ellipse cx="1" cy="3" rx="15.5" ry="19" fill="#d8b09e"/><ellipse cx="-8" cy="6" rx="6" ry="12" fill="#c0978a" opacity=".55"/><path d="M-17 4C-22-14-10-23 2-23C14-23 22-13 17 4C16-6 13-11 8-12C2-10-6-12-10-10C-14-8-16-2-17 4Z" fill="#d9d6d6"/><path d="M-10-10C-4-16 6-16 12-11C6-13-2-13-10-10Z" fill="#efeded"/><path d="M-17 4C-19-2-19-10-15-15C-16-8-16-2-15 4Z" fill="#b9b6b8"/><ellipse cx="-6.0" cy="-2.2" rx="3.2" ry="2.2" fill="#55382c" opacity=".38"/><ellipse cx="-6.0" cy="-2.0" rx="1.8" ry="1.15" fill="#2a2020"/><ellipse cx="7.0" cy="-1.7" rx="3.2" ry="2.2" fill="#55382c" opacity=".38"/><ellipse cx="7.0" cy="-1.5" rx="1.8" ry="1.15" fill="#2a2020"/><path d="M-10.0 -5.5L-3.0 -5.0" stroke="#8d8684" stroke-width="1.3" stroke-linecap="round"/><path d="M4.0 -5.0L11.0 -5.0" stroke="#8d8684" stroke-width="1.3" stroke-linecap="round"/><path d="M1-2C0 3-1 6 0 8H3" stroke="#a67866" stroke-width="1.1" fill="none"/><path d="M-5 13C-2 12 3 12 6 13.5" stroke="#8a5246" stroke-width="1.3" fill="none"/>
</g></g>
<circle r="22.55" fill="none" stroke="#131313" stroke-width="1.9"/>
</g>
<text x="525.5" y="2301.2" font-size="16.0" fill="#403c3a" textLength="42.5" lengthAdjust="spacingAndGlyphs">AMLO</text>
<rect x="595.3" y="2330.6" width="75.6" height="53.6" fill="#582b80"/>
<text x="676.4" y="2365.2" font-size="21.0" fill="#1a1a1a" textLength="25.3" lengthAdjust="spacingAndGlyphs">5.2</text>
<g transform="translate(596.0 2358.6)">
<clipPath id="c51"><circle r="22.3"/></clipPath>
<g clip-path="url(#c51)"><g filter="url(#bl)">
<rect x="-23" y="-23" width="46" height="46" fill="#1e2740"/><path d="M-23-4C-18-8-16 2-15 10C-16 16-19 20-23 21Z" fill="#56688c"/><ellipse cx="5" cy="4" rx="16" ry="20.5" fill="#c4917a"/><ellipse cx="-4" cy="6" rx="7" ry="14" fill="#8f5f48" opacity=".7"/><ellipse cx="12" cy="2" rx="7" ry="12" fill="#cf9c7e" opacity=".7"/><path d="M-12-4C-15-17-5-23 5-23C15-23 22-17 20-8C17-13 12-15 6-15C-2-15-8-12-12-4Z" fill="#4b4644"/><path d="M-3-16C2-20 12-20 17-14C10-17 3-17-3-16Z" fill="#7a7472"/><ellipse cx="-12" cy="2" rx="2.4" ry="5" fill="#a67458"/><ellipse cx="0.0" cy="-2.7" rx="3.3" ry="2.2" fill="#55382c" opacity=".38"/><ellipse cx="0.0" cy="-2.5" rx="1.9" ry="1.15" fill="#1a1210"/><ellipse cx="13.0" cy="-1.7" rx="3.2" ry="2.2" fill="#55382c" opacity=".38"/><ellipse cx="13.0" cy="-1.5" rx="1.8" ry="1.15" fill="#1a1210"/><path d="M-4.0 -6.5L4.0 -5.0" stroke="#2a2220" stroke-width="1.8" stroke-linecap="round"/><path d="M9.0 -5.0L16.0 -5.5" stroke="#2a2220" stroke-width="1.8" stroke-linecap="round"/><path d="M7-3C7 2 6 5 7 7.5H10" stroke="#8a5a44" stroke-width="1.2" fill="none"/><ellipse cx="7" cy="13.5" rx="5.5" ry="2.6" fill="#3a1714"/><path d="M3 12.6H11" stroke="#e8d8cc" stroke-width="1"/>
</g></g>
<circle r="22.55" fill="none" stroke="#131313" stroke-width="1.9"/>
</g>
<text x="522.4" y="2363.6" font-size="16.0" fill="#403c3a" textLength="45.6" lengthAdjust="spacingAndGlyphs">Bronco</text>
<rect x="10.0" y="2410.3" width="957.0" height="9.5" fill="#ddd0cb"/>
<text x="865.4" y="2419.9" font-size="12.5" fill="#4a4644" textLength="101.6" lengthAdjust="spacingAndGlyphs">GRÁFICO EE: STAFF</text>
</svg>
</body></html>
